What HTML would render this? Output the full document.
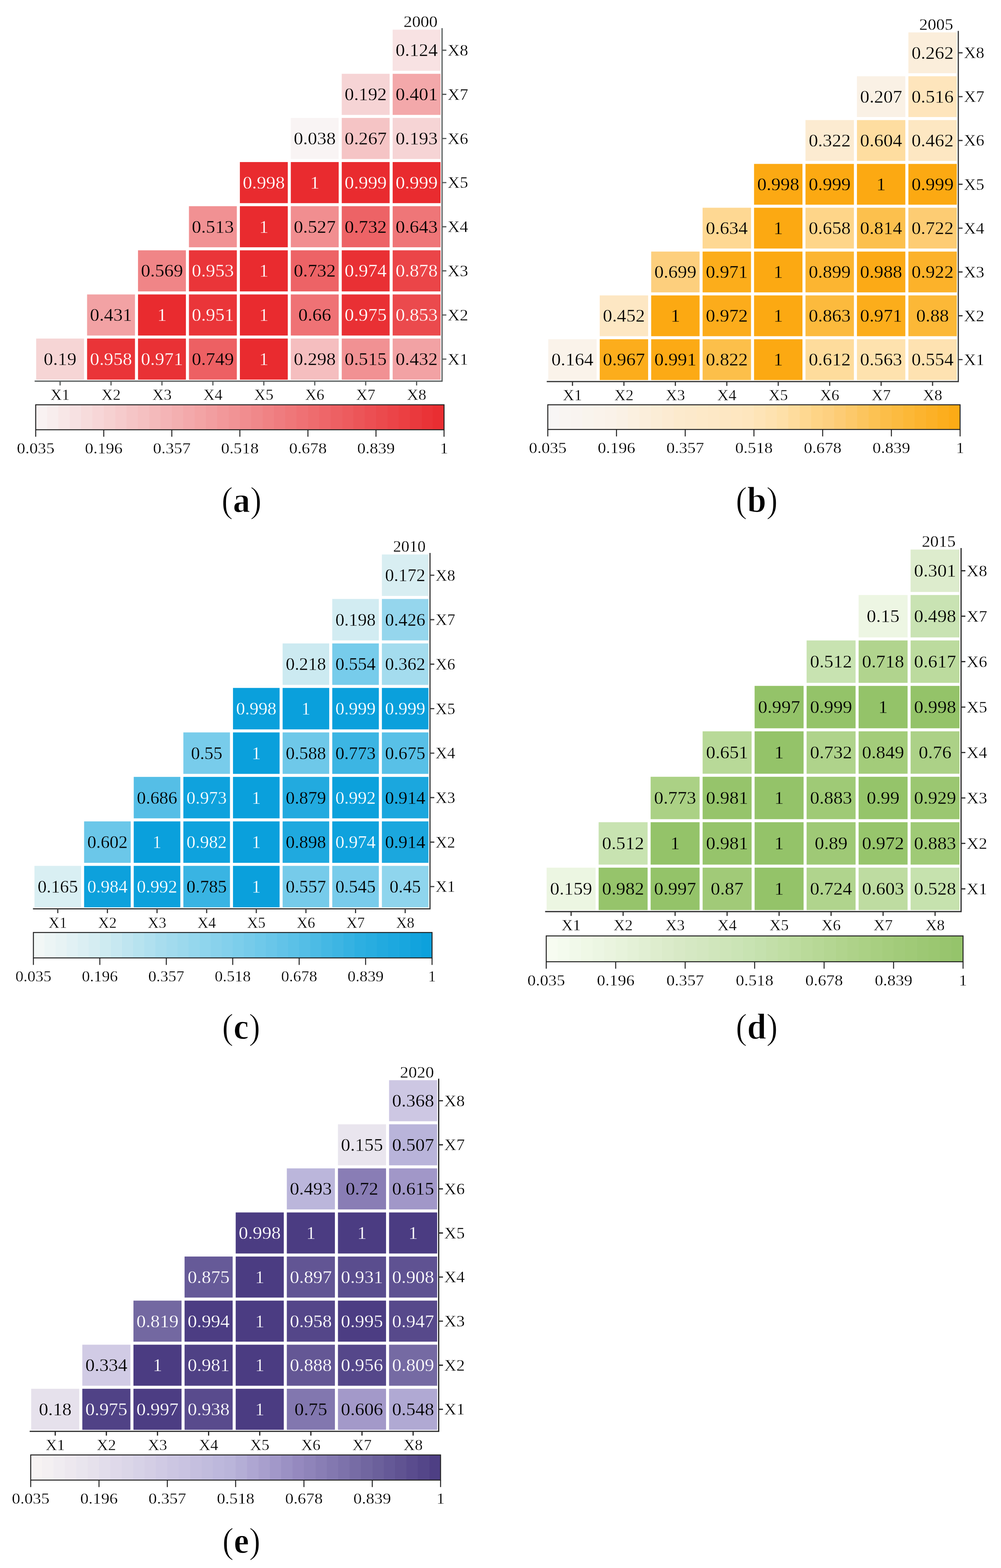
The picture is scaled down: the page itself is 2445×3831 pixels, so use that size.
<!DOCTYPE html><html><head><meta charset="utf-8"><style>html,body{margin:0;padding:0;background:#fff}svg{display:block}text{font-family:'Liberation Serif', 'Times New Roman', serif}</style></head><body>
<svg width="2445" height="3831" viewBox="0 0 2445 3831">
<rect x="0" y="0" width="2445" height="3831" fill="#fff"/>
<g><rect x="959.1" y="72.5" width="117" height="100.41" fill="#f8e2e3"/><text transform="translate(1017.6 137.43) scale(1.05 1)" font-size="43.5" text-anchor="middle" fill="#000" stroke="#f8e2e3" stroke-width="0.4" stroke-linejoin="round">0.124</text><rect x="834.7" y="180.31" width="117" height="100.41" fill="#f6d4d5"/><text transform="translate(893.2 245.24) scale(1.05 1)" font-size="43.5" text-anchor="middle" fill="#000" stroke="#f6d4d5" stroke-width="0.4" stroke-linejoin="round">0.192</text><rect x="959.1" y="180.31" width="117" height="100.41" fill="#f3a8aa"/><text transform="translate(1017.6 245.24) scale(1.05 1)" font-size="43.5" text-anchor="middle" fill="#000" stroke="#f3a8aa" stroke-width="0.4" stroke-linejoin="round">0.401</text><rect x="710.3" y="288.12" width="117" height="100.41" fill="#f9f4f4"/><text transform="translate(768.8 353.06) scale(1.05 1)" font-size="43.5" text-anchor="middle" fill="#000" stroke="#f9f4f4" stroke-width="0.4" stroke-linejoin="round">0.038</text><rect x="834.7" y="288.12" width="117" height="100.41" fill="#f5c4c5"/><text transform="translate(893.2 353.06) scale(1.05 1)" font-size="43.5" text-anchor="middle" fill="#000" stroke="#f5c4c5" stroke-width="0.4" stroke-linejoin="round">0.267</text><rect x="959.1" y="288.12" width="117" height="100.41" fill="#f6d4d5"/><text transform="translate(1017.6 353.06) scale(1.05 1)" font-size="43.5" text-anchor="middle" fill="#000" stroke="#f6d4d5" stroke-width="0.4" stroke-linejoin="round">0.193</text><rect x="585.9" y="395.94" width="117" height="100.41" fill="#e92b2f"/><text transform="translate(644.4 460.87) scale(1.05 1)" font-size="43.5" text-anchor="middle" fill="#fff" stroke="#e92b2f" stroke-width="0.4" stroke-linejoin="round">0.998</text><rect x="710.3" y="395.94" width="117" height="100.41" fill="#e92b2f"/><text transform="translate(768.8 460.87) scale(1.05 1)" font-size="43.5" text-anchor="middle" fill="#fff" stroke="#e92b2f" stroke-width="0.4" stroke-linejoin="round">1</text><rect x="834.7" y="395.94" width="117" height="100.41" fill="#e92b2f"/><text transform="translate(893.2 460.87) scale(1.05 1)" font-size="43.5" text-anchor="middle" fill="#fff" stroke="#e92b2f" stroke-width="0.4" stroke-linejoin="round">0.999</text><rect x="959.1" y="395.94" width="117" height="100.41" fill="#e92b2f"/><text transform="translate(1017.6 460.87) scale(1.05 1)" font-size="43.5" text-anchor="middle" fill="#fff" stroke="#e92b2f" stroke-width="0.4" stroke-linejoin="round">0.999</text><rect x="461.5" y="503.75" width="117" height="100.41" fill="#f19193"/><text transform="translate(520 568.68) scale(1.05 1)" font-size="43.5" text-anchor="middle" fill="#000" stroke="#f19193" stroke-width="0.4" stroke-linejoin="round">0.513</text><rect x="585.9" y="503.75" width="117" height="100.41" fill="#e92b2f"/><text transform="translate(644.4 568.68) scale(1.05 1)" font-size="43.5" text-anchor="middle" fill="#fff" stroke="#e92b2f" stroke-width="0.4" stroke-linejoin="round">1</text><rect x="710.3" y="503.75" width="117" height="100.41" fill="#f18e90"/><text transform="translate(768.8 568.68) scale(1.05 1)" font-size="43.5" text-anchor="middle" fill="#000" stroke="#f18e90" stroke-width="0.4" stroke-linejoin="round">0.527</text><rect x="834.7" y="503.75" width="117" height="100.41" fill="#ed6366"/><text transform="translate(893.2 568.68) scale(1.05 1)" font-size="43.5" text-anchor="middle" fill="#000" stroke="#ed6366" stroke-width="0.4" stroke-linejoin="round">0.732</text><rect x="959.1" y="503.75" width="117" height="100.41" fill="#ef7678"/><text transform="translate(1017.6 568.68) scale(1.05 1)" font-size="43.5" text-anchor="middle" fill="#000" stroke="#ef7678" stroke-width="0.4" stroke-linejoin="round">0.643</text><rect x="337.1" y="611.56" width="117" height="100.41" fill="#f08587"/><text transform="translate(395.6 676.49) scale(1.05 1)" font-size="43.5" text-anchor="middle" fill="#000" stroke="#f08587" stroke-width="0.4" stroke-linejoin="round">0.569</text><rect x="461.5" y="611.56" width="117" height="100.41" fill="#ea3539"/><text transform="translate(520 676.49) scale(1.05 1)" font-size="43.5" text-anchor="middle" fill="#fff" stroke="#ea3539" stroke-width="0.4" stroke-linejoin="round">0.953</text><rect x="585.9" y="611.56" width="117" height="100.41" fill="#e92b2f"/><text transform="translate(644.4 676.49) scale(1.05 1)" font-size="43.5" text-anchor="middle" fill="#fff" stroke="#e92b2f" stroke-width="0.4" stroke-linejoin="round">1</text><rect x="710.3" y="611.56" width="117" height="100.41" fill="#ed6366"/><text transform="translate(768.8 676.49) scale(1.05 1)" font-size="43.5" text-anchor="middle" fill="#000" stroke="#ed6366" stroke-width="0.4" stroke-linejoin="round">0.732</text><rect x="834.7" y="611.56" width="117" height="100.41" fill="#e93034"/><text transform="translate(893.2 676.49) scale(1.05 1)" font-size="43.5" text-anchor="middle" fill="#fff" stroke="#e93034" stroke-width="0.4" stroke-linejoin="round">0.974</text><rect x="959.1" y="611.56" width="117" height="100.41" fill="#eb4548"/><text transform="translate(1017.6 676.49) scale(1.05 1)" font-size="43.5" text-anchor="middle" fill="#fff" stroke="#eb4548" stroke-width="0.4" stroke-linejoin="round">0.878</text><rect x="212.7" y="719.38" width="117" height="100.41" fill="#f2a2a4"/><text transform="translate(271.2 784.31) scale(1.05 1)" font-size="43.5" text-anchor="middle" fill="#000" stroke="#f2a2a4" stroke-width="0.4" stroke-linejoin="round">0.431</text><rect x="337.1" y="719.38" width="117" height="100.41" fill="#e92b2f"/><text transform="translate(395.6 784.31) scale(1.05 1)" font-size="43.5" text-anchor="middle" fill="#fff" stroke="#e92b2f" stroke-width="0.4" stroke-linejoin="round">1</text><rect x="461.5" y="719.38" width="117" height="100.41" fill="#ea3539"/><text transform="translate(520 784.31) scale(1.05 1)" font-size="43.5" text-anchor="middle" fill="#fff" stroke="#ea3539" stroke-width="0.4" stroke-linejoin="round">0.951</text><rect x="585.9" y="719.38" width="117" height="100.41" fill="#e92b2f"/><text transform="translate(644.4 784.31) scale(1.05 1)" font-size="43.5" text-anchor="middle" fill="#fff" stroke="#e92b2f" stroke-width="0.4" stroke-linejoin="round">1</text><rect x="710.3" y="719.38" width="117" height="100.41" fill="#ef7275"/><text transform="translate(768.8 784.31) scale(1.05 1)" font-size="43.5" text-anchor="middle" fill="#000" stroke="#ef7275" stroke-width="0.4" stroke-linejoin="round">0.66</text><rect x="834.7" y="719.38" width="117" height="100.41" fill="#e93034"/><text transform="translate(893.2 784.31) scale(1.05 1)" font-size="43.5" text-anchor="middle" fill="#fff" stroke="#e93034" stroke-width="0.4" stroke-linejoin="round">0.975</text><rect x="959.1" y="719.38" width="117" height="100.41" fill="#eb4a4d"/><text transform="translate(1017.6 784.31) scale(1.05 1)" font-size="43.5" text-anchor="middle" fill="#fff" stroke="#eb4a4d" stroke-width="0.4" stroke-linejoin="round">0.853</text><rect x="88.3" y="827.19" width="117" height="100.41" fill="#f6d5d5"/><text transform="translate(146.8 892.12) scale(1.05 1)" font-size="43.5" text-anchor="middle" fill="#000" stroke="#f6d5d5" stroke-width="0.4" stroke-linejoin="round">0.19</text><rect x="212.7" y="827.19" width="117" height="100.41" fill="#ea3438"/><text transform="translate(271.2 892.12) scale(1.05 1)" font-size="43.5" text-anchor="middle" fill="#fff" stroke="#ea3438" stroke-width="0.4" stroke-linejoin="round">0.958</text><rect x="337.1" y="827.19" width="117" height="100.41" fill="#e93135"/><text transform="translate(395.6 892.12) scale(1.05 1)" font-size="43.5" text-anchor="middle" fill="#fff" stroke="#e93135" stroke-width="0.4" stroke-linejoin="round">0.971</text><rect x="461.5" y="827.19" width="117" height="100.41" fill="#ed6063"/><text transform="translate(520 892.12) scale(1.05 1)" font-size="43.5" text-anchor="middle" fill="#000" stroke="#ed6063" stroke-width="0.4" stroke-linejoin="round">0.749</text><rect x="585.9" y="827.19" width="117" height="100.41" fill="#e92b2f"/><text transform="translate(644.4 892.12) scale(1.05 1)" font-size="43.5" text-anchor="middle" fill="#fff" stroke="#e92b2f" stroke-width="0.4" stroke-linejoin="round">1</text><rect x="710.3" y="827.19" width="117" height="100.41" fill="#f5bebf"/><text transform="translate(768.8 892.12) scale(1.05 1)" font-size="43.5" text-anchor="middle" fill="#000" stroke="#f5bebf" stroke-width="0.4" stroke-linejoin="round">0.298</text><rect x="834.7" y="827.19" width="117" height="100.41" fill="#f19193"/><text transform="translate(893.2 892.12) scale(1.05 1)" font-size="43.5" text-anchor="middle" fill="#000" stroke="#f19193" stroke-width="0.4" stroke-linejoin="round">0.515</text><rect x="959.1" y="827.19" width="117" height="100.41" fill="#f2a2a4"/><text transform="translate(1017.6 892.12) scale(1.05 1)" font-size="43.5" text-anchor="middle" fill="#000" stroke="#f2a2a4" stroke-width="0.4" stroke-linejoin="round">0.432</text><path d="M84.6 931.3H1079.8V68.8" fill="none" stroke="#555a5a" stroke-width="2.9"/><path d="M146.8 931.3v10.5 M1079.8 122.71h10.5 M271.2 931.3v10.5 M1079.8 230.52h10.5 M395.6 931.3v10.5 M1079.8 338.33h10.5 M520 931.3v10.5 M1079.8 446.14h10.5 M644.4 931.3v10.5 M1079.8 553.96h10.5 M768.8 931.3v10.5 M1079.8 661.77h10.5 M893.2 931.3v10.5 M1079.8 769.58h10.5 M1017.6 931.3v10.5 M1079.8 877.39h10.5" stroke="#555a5a" stroke-width="2.9"/><text transform="translate(1093.3 135.94) scale(1.04 1)" font-size="39.5" text-anchor="start" fill="#000" stroke="#fff" stroke-width="0.4" stroke-linejoin="round">X8</text><text transform="translate(1093.3 243.75) scale(1.04 1)" font-size="39.5" text-anchor="start" fill="#000" stroke="#fff" stroke-width="0.4" stroke-linejoin="round">X7</text><text transform="translate(1093.3 351.56) scale(1.04 1)" font-size="39.5" text-anchor="start" fill="#000" stroke="#fff" stroke-width="0.4" stroke-linejoin="round">X6</text><text transform="translate(1093.3 459.38) scale(1.04 1)" font-size="39.5" text-anchor="start" fill="#000" stroke="#fff" stroke-width="0.4" stroke-linejoin="round">X5</text><text transform="translate(1093.3 567.19) scale(1.04 1)" font-size="39.5" text-anchor="start" fill="#000" stroke="#fff" stroke-width="0.4" stroke-linejoin="round">X4</text><text transform="translate(1093.3 675) scale(1.04 1)" font-size="39.5" text-anchor="start" fill="#000" stroke="#fff" stroke-width="0.4" stroke-linejoin="round">X3</text><text transform="translate(1093.3 782.81) scale(1.04 1)" font-size="39.5" text-anchor="start" fill="#000" stroke="#fff" stroke-width="0.4" stroke-linejoin="round">X2</text><text transform="translate(1093.3 890.63) scale(1.04 1)" font-size="39.5" text-anchor="start" fill="#000" stroke="#fff" stroke-width="0.4" stroke-linejoin="round">X1</text><text transform="translate(146.8 977.36) scale(1.02 1)" font-size="37.8" text-anchor="middle" fill="#000" stroke="#fff" stroke-width="0.4" stroke-linejoin="round">X1</text><text transform="translate(271.2 977.36) scale(1.02 1)" font-size="37.8" text-anchor="middle" fill="#000" stroke="#fff" stroke-width="0.4" stroke-linejoin="round">X2</text><text transform="translate(395.6 977.36) scale(1.02 1)" font-size="37.8" text-anchor="middle" fill="#000" stroke="#fff" stroke-width="0.4" stroke-linejoin="round">X3</text><text transform="translate(520 977.36) scale(1.02 1)" font-size="37.8" text-anchor="middle" fill="#000" stroke="#fff" stroke-width="0.4" stroke-linejoin="round">X4</text><text transform="translate(644.4 977.36) scale(1.02 1)" font-size="37.8" text-anchor="middle" fill="#000" stroke="#fff" stroke-width="0.4" stroke-linejoin="round">X5</text><text transform="translate(768.8 977.36) scale(1.02 1)" font-size="37.8" text-anchor="middle" fill="#000" stroke="#fff" stroke-width="0.4" stroke-linejoin="round">X6</text><text transform="translate(893.2 977.36) scale(1.02 1)" font-size="37.8" text-anchor="middle" fill="#000" stroke="#fff" stroke-width="0.4" stroke-linejoin="round">X7</text><text transform="translate(1017.6 977.36) scale(1.02 1)" font-size="37.8" text-anchor="middle" fill="#000" stroke="#fff" stroke-width="0.4" stroke-linejoin="round">X8</text><text transform="translate(1068.7 65.8) scale(1.05 1)" font-size="39.5" text-anchor="end" fill="#000" stroke="#fff" stroke-width="0.4" stroke-linejoin="round">2000</text><rect x="87.2" y="989" width="28.31" height="61" fill="#f9f2f2"/><rect x="114.91" y="989" width="28.31" height="61" fill="#f8eded"/><rect x="142.61" y="989" width="28.31" height="61" fill="#f8e7e7"/><rect x="170.32" y="989" width="28.31" height="61" fill="#f7e1e2"/><rect x="198.02" y="989" width="28.31" height="61" fill="#f7dcdc"/><rect x="225.73" y="989" width="28.31" height="61" fill="#f7d6d7"/><rect x="253.43" y="989" width="28.31" height="61" fill="#f6d1d1"/><rect x="281.14" y="989" width="28.31" height="61" fill="#f6cbcc"/><rect x="308.84" y="989" width="28.31" height="61" fill="#f5c5c6"/><rect x="336.55" y="989" width="28.31" height="61" fill="#f5c0c1"/><rect x="364.26" y="989" width="28.31" height="61" fill="#f4babb"/><rect x="391.96" y="989" width="28.31" height="61" fill="#f4b4b6"/><rect x="419.67" y="989" width="28.31" height="61" fill="#f3afb0"/><rect x="447.37" y="989" width="28.31" height="61" fill="#f3a9ab"/><rect x="475.08" y="989" width="28.31" height="61" fill="#f3a4a5"/><rect x="502.78" y="989" width="28.31" height="61" fill="#f29ea0"/><rect x="530.49" y="989" width="28.31" height="61" fill="#f2989a"/><rect x="558.19" y="989" width="28.31" height="61" fill="#f19395"/><rect x="585.9" y="989" width="28.31" height="61" fill="#f18d8f"/><rect x="613.61" y="989" width="28.31" height="61" fill="#f0888a"/><rect x="641.31" y="989" width="28.31" height="61" fill="#f08284"/><rect x="669.02" y="989" width="28.31" height="61" fill="#ef7c7f"/><rect x="696.72" y="989" width="28.31" height="61" fill="#ef7779"/><rect x="724.43" y="989" width="28.31" height="61" fill="#ef7174"/><rect x="752.13" y="989" width="28.31" height="61" fill="#ee6c6e"/><rect x="779.84" y="989" width="28.31" height="61" fill="#ee6669"/><rect x="807.54" y="989" width="28.31" height="61" fill="#ed6063"/><rect x="835.25" y="989" width="28.31" height="61" fill="#ed5b5e"/><rect x="862.96" y="989" width="28.31" height="61" fill="#ec5558"/><rect x="890.66" y="989" width="28.31" height="61" fill="#ec4f53"/><rect x="918.37" y="989" width="28.31" height="61" fill="#eb4a4d"/><rect x="946.07" y="989" width="28.31" height="61" fill="#eb4448"/><rect x="973.78" y="989" width="28.31" height="61" fill="#eb3f42"/><rect x="1001.48" y="989" width="28.31" height="61" fill="#ea393d"/><rect x="1029.19" y="989" width="28.31" height="61" fill="#ea3337"/><rect x="1056.89" y="989" width="28.31" height="61" fill="#e92e32"/><rect x="87.2" y="989" width="997.4" height="61" fill="none" stroke="#222" stroke-width="2.4"/><text transform="translate(87.2 1107.99) scale(1.074 1)" font-size="38" text-anchor="middle" fill="#000" stroke="#fff" stroke-width="0.4" stroke-linejoin="round">0.035</text><text transform="translate(253.43 1107.99) scale(1.074 1)" font-size="38" text-anchor="middle" fill="#000" stroke="#fff" stroke-width="0.4" stroke-linejoin="round">0.196</text><text transform="translate(419.67 1107.99) scale(1.074 1)" font-size="38" text-anchor="middle" fill="#000" stroke="#fff" stroke-width="0.4" stroke-linejoin="round">0.357</text><text transform="translate(585.9 1107.99) scale(1.074 1)" font-size="38" text-anchor="middle" fill="#000" stroke="#fff" stroke-width="0.4" stroke-linejoin="round">0.518</text><text transform="translate(752.13 1107.99) scale(1.074 1)" font-size="38" text-anchor="middle" fill="#000" stroke="#fff" stroke-width="0.4" stroke-linejoin="round">0.678</text><text transform="translate(918.37 1107.99) scale(1.074 1)" font-size="38" text-anchor="middle" fill="#000" stroke="#fff" stroke-width="0.4" stroke-linejoin="round">0.839</text><text transform="translate(1084.6 1107.99) scale(1.074 1)" font-size="38" text-anchor="middle" fill="#000" stroke="#fff" stroke-width="0.4" stroke-linejoin="round">1</text><path d="M87.2 1050v17 M253.43 1050v17 M419.67 1050v17 M585.9 1050v17 M752.13 1050v17 M918.37 1050v17 M1084.6 1050v17" stroke="#222" stroke-width="2.4"/><text transform="translate(590 1251.2) scale(0.955 1)" font-size="88" text-anchor="middle" stroke="#fff" stroke-width="1.4" stroke-linejoin="round">(<tspan font-weight="bold">a</tspan>)</text></g>
<g><rect x="2218.75" y="79.2" width="118.25" height="99.69" fill="#fbeedb"/><text transform="translate(2277.88 143.77) scale(1.05 1)" font-size="43.5" text-anchor="middle" fill="#000" stroke="#fbeedb" stroke-width="0.4" stroke-linejoin="round">0.262</text><rect x="2093.1" y="186.29" width="118.25" height="99.69" fill="#faf1e5"/><text transform="translate(2152.22 250.86) scale(1.05 1)" font-size="43.5" text-anchor="middle" fill="#000" stroke="#faf1e5" stroke-width="0.4" stroke-linejoin="round">0.207</text><rect x="2218.75" y="186.29" width="118.25" height="99.69" fill="#fee5bc"/><text transform="translate(2277.88 250.86) scale(1.05 1)" font-size="43.5" text-anchor="middle" fill="#000" stroke="#fee5bc" stroke-width="0.4" stroke-linejoin="round">0.516</text><rect x="1967.45" y="293.38" width="118.25" height="99.69" fill="#fcebd1"/><text transform="translate(2026.57 357.94) scale(1.05 1)" font-size="43.5" text-anchor="middle" fill="#000" stroke="#fcebd1" stroke-width="0.4" stroke-linejoin="round">0.322</text><rect x="2093.1" y="293.38" width="118.25" height="99.69" fill="#fedda0"/><text transform="translate(2152.22 357.94) scale(1.05 1)" font-size="43.5" text-anchor="middle" fill="#000" stroke="#fedda0" stroke-width="0.4" stroke-linejoin="round">0.604</text><rect x="2218.75" y="293.38" width="118.25" height="99.69" fill="#fde7c2"/><text transform="translate(2277.88 357.94) scale(1.05 1)" font-size="43.5" text-anchor="middle" fill="#000" stroke="#fde7c2" stroke-width="0.4" stroke-linejoin="round">0.462</text><rect x="1841.8" y="400.46" width="118.25" height="99.69" fill="#fca913"/><text transform="translate(1900.92 465.03) scale(1.05 1)" font-size="43.5" text-anchor="middle" fill="#000" stroke="#fca913" stroke-width="0.4" stroke-linejoin="round">0.998</text><rect x="1967.45" y="400.46" width="118.25" height="99.69" fill="#fca912"/><text transform="translate(2026.57 465.03) scale(1.05 1)" font-size="43.5" text-anchor="middle" fill="#000" stroke="#fca912" stroke-width="0.4" stroke-linejoin="round">0.999</text><rect x="2093.1" y="400.46" width="118.25" height="99.69" fill="#fca912"/><text transform="translate(2152.22 465.03) scale(1.05 1)" font-size="43.5" text-anchor="middle" fill="#000" stroke="#fca912" stroke-width="0.4" stroke-linejoin="round">1</text><rect x="2218.75" y="400.46" width="118.25" height="99.69" fill="#fca912"/><text transform="translate(2277.88 465.03) scale(1.05 1)" font-size="43.5" text-anchor="middle" fill="#000" stroke="#fca912" stroke-width="0.4" stroke-linejoin="round">0.999</text><rect x="1716.15" y="507.55" width="118.25" height="99.69" fill="#fed893"/><text transform="translate(1775.27 572.12) scale(1.05 1)" font-size="43.5" text-anchor="middle" fill="#000" stroke="#fed893" stroke-width="0.4" stroke-linejoin="round">0.634</text><rect x="1841.8" y="507.55" width="118.25" height="99.69" fill="#fca912"/><text transform="translate(1900.92 572.12) scale(1.05 1)" font-size="43.5" text-anchor="middle" fill="#000" stroke="#fca912" stroke-width="0.4" stroke-linejoin="round">1</text><rect x="1967.45" y="507.55" width="118.25" height="99.69" fill="#fed589"/><text transform="translate(2026.57 572.12) scale(1.05 1)" font-size="43.5" text-anchor="middle" fill="#000" stroke="#fed589" stroke-width="0.4" stroke-linejoin="round">0.658</text><rect x="2093.1" y="507.55" width="118.25" height="99.69" fill="#fcc04d"/><text transform="translate(2152.22 572.12) scale(1.05 1)" font-size="43.5" text-anchor="middle" fill="#000" stroke="#fcc04d" stroke-width="0.4" stroke-linejoin="round">0.814</text><rect x="2218.75" y="507.55" width="118.25" height="99.69" fill="#fdcc73"/><text transform="translate(2277.88 572.12) scale(1.05 1)" font-size="43.5" text-anchor="middle" fill="#000" stroke="#fdcc73" stroke-width="0.4" stroke-linejoin="round">0.722</text><rect x="1590.5" y="614.64" width="118.25" height="99.69" fill="#fdcf7d"/><text transform="translate(1649.62 679.21) scale(1.05 1)" font-size="43.5" text-anchor="middle" fill="#000" stroke="#fdcf7d" stroke-width="0.4" stroke-linejoin="round">0.699</text><rect x="1716.15" y="614.64" width="118.25" height="99.69" fill="#fcad1b"/><text transform="translate(1775.27 679.21) scale(1.05 1)" font-size="43.5" text-anchor="middle" fill="#000" stroke="#fcad1b" stroke-width="0.4" stroke-linejoin="round">0.971</text><rect x="1841.8" y="614.64" width="118.25" height="99.69" fill="#fca912"/><text transform="translate(1900.92 679.21) scale(1.05 1)" font-size="43.5" text-anchor="middle" fill="#000" stroke="#fca912" stroke-width="0.4" stroke-linejoin="round">1</text><rect x="1967.45" y="614.64" width="118.25" height="99.69" fill="#fcb531"/><text transform="translate(2026.57 679.21) scale(1.05 1)" font-size="43.5" text-anchor="middle" fill="#000" stroke="#fcb531" stroke-width="0.4" stroke-linejoin="round">0.899</text><rect x="2093.1" y="614.64" width="118.25" height="99.69" fill="#fcaa16"/><text transform="translate(2152.22 679.21) scale(1.05 1)" font-size="43.5" text-anchor="middle" fill="#000" stroke="#fcaa16" stroke-width="0.4" stroke-linejoin="round">0.988</text><rect x="2218.75" y="614.64" width="118.25" height="99.69" fill="#fcb22a"/><text transform="translate(2277.88 679.21) scale(1.05 1)" font-size="43.5" text-anchor="middle" fill="#000" stroke="#fcb22a" stroke-width="0.4" stroke-linejoin="round">0.922</text><rect x="1464.85" y="721.73" width="118.25" height="99.69" fill="#fde7c3"/><text transform="translate(1523.97 786.29) scale(1.05 1)" font-size="43.5" text-anchor="middle" fill="#000" stroke="#fde7c3" stroke-width="0.4" stroke-linejoin="round">0.452</text><rect x="1590.5" y="721.73" width="118.25" height="99.69" fill="#fca912"/><text transform="translate(1649.62 786.29) scale(1.05 1)" font-size="43.5" text-anchor="middle" fill="#000" stroke="#fca912" stroke-width="0.4" stroke-linejoin="round">1</text><rect x="1716.15" y="721.73" width="118.25" height="99.69" fill="#fcac1b"/><text transform="translate(1775.27 786.29) scale(1.05 1)" font-size="43.5" text-anchor="middle" fill="#000" stroke="#fcac1b" stroke-width="0.4" stroke-linejoin="round">0.972</text><rect x="1841.8" y="721.73" width="118.25" height="99.69" fill="#fca912"/><text transform="translate(1900.92 786.29) scale(1.05 1)" font-size="43.5" text-anchor="middle" fill="#000" stroke="#fca912" stroke-width="0.4" stroke-linejoin="round">1</text><rect x="1967.45" y="721.73" width="118.25" height="99.69" fill="#fcba3d"/><text transform="translate(2026.57 786.29) scale(1.05 1)" font-size="43.5" text-anchor="middle" fill="#000" stroke="#fcba3d" stroke-width="0.4" stroke-linejoin="round">0.863</text><rect x="2093.1" y="721.73" width="118.25" height="99.69" fill="#fcad1b"/><text transform="translate(2152.22 786.29) scale(1.05 1)" font-size="43.5" text-anchor="middle" fill="#000" stroke="#fcad1b" stroke-width="0.4" stroke-linejoin="round">0.971</text><rect x="2218.75" y="721.73" width="118.25" height="99.69" fill="#fcb837"/><text transform="translate(2277.88 786.29) scale(1.05 1)" font-size="43.5" text-anchor="middle" fill="#000" stroke="#fcb837" stroke-width="0.4" stroke-linejoin="round">0.88</text><rect x="1339.2" y="828.81" width="118.25" height="99.69" fill="#faf3ea"/><text transform="translate(1398.33 893.38) scale(1.05 1)" font-size="43.5" text-anchor="middle" fill="#000" stroke="#faf3ea" stroke-width="0.4" stroke-linejoin="round">0.164</text><rect x="1464.85" y="828.81" width="118.25" height="99.69" fill="#fcad1c"/><text transform="translate(1523.97 893.38) scale(1.05 1)" font-size="43.5" text-anchor="middle" fill="#000" stroke="#fcad1c" stroke-width="0.4" stroke-linejoin="round">0.967</text><rect x="1590.5" y="828.81" width="118.25" height="99.69" fill="#fcaa15"/><text transform="translate(1649.62 893.38) scale(1.05 1)" font-size="43.5" text-anchor="middle" fill="#000" stroke="#fcaa15" stroke-width="0.4" stroke-linejoin="round">0.991</text><rect x="1716.15" y="828.81" width="118.25" height="99.69" fill="#fcbf4a"/><text transform="translate(1775.27 893.38) scale(1.05 1)" font-size="43.5" text-anchor="middle" fill="#000" stroke="#fcbf4a" stroke-width="0.4" stroke-linejoin="round">0.822</text><rect x="1841.8" y="828.81" width="118.25" height="99.69" fill="#fca912"/><text transform="translate(1900.92 893.38) scale(1.05 1)" font-size="43.5" text-anchor="middle" fill="#000" stroke="#fca912" stroke-width="0.4" stroke-linejoin="round">1</text><rect x="1967.45" y="828.81" width="118.25" height="99.69" fill="#fedc9c"/><text transform="translate(2026.57 893.38) scale(1.05 1)" font-size="43.5" text-anchor="middle" fill="#000" stroke="#fedc9c" stroke-width="0.4" stroke-linejoin="round">0.612</text><rect x="2093.1" y="828.81" width="118.25" height="99.69" fill="#fee2ae"/><text transform="translate(2152.22 893.38) scale(1.05 1)" font-size="43.5" text-anchor="middle" fill="#000" stroke="#fee2ae" stroke-width="0.4" stroke-linejoin="round">0.563</text><rect x="2218.75" y="828.81" width="118.25" height="99.69" fill="#fee2b1"/><text transform="translate(2277.88 893.38) scale(1.05 1)" font-size="43.5" text-anchor="middle" fill="#000" stroke="#fee2b1" stroke-width="0.4" stroke-linejoin="round">0.554</text><path d="M1335.5 932.2H2340.7V75.5" fill="none" stroke="#383838" stroke-width="2.9"/><path d="M1398.33 932.2v10.5 M2340.7 129.04h10.5 M1523.97 932.2v10.5 M2340.7 236.13h10.5 M1649.62 932.2v10.5 M2340.7 343.22h10.5 M1775.27 932.2v10.5 M2340.7 450.31h10.5 M1900.92 932.2v10.5 M2340.7 557.39h10.5 M2026.57 932.2v10.5 M2340.7 664.48h10.5 M2152.22 932.2v10.5 M2340.7 771.57h10.5 M2277.88 932.2v10.5 M2340.7 878.66h10.5" stroke="#383838" stroke-width="2.9"/><text transform="translate(2354.2 142.28) scale(1.04 1)" font-size="39.5" text-anchor="start" fill="#000" stroke="#fff" stroke-width="0.4" stroke-linejoin="round">X8</text><text transform="translate(2354.2 249.36) scale(1.04 1)" font-size="39.5" text-anchor="start" fill="#000" stroke="#fff" stroke-width="0.4" stroke-linejoin="round">X7</text><text transform="translate(2354.2 356.45) scale(1.04 1)" font-size="39.5" text-anchor="start" fill="#000" stroke="#fff" stroke-width="0.4" stroke-linejoin="round">X6</text><text transform="translate(2354.2 463.54) scale(1.04 1)" font-size="39.5" text-anchor="start" fill="#000" stroke="#fff" stroke-width="0.4" stroke-linejoin="round">X5</text><text transform="translate(2354.2 570.63) scale(1.04 1)" font-size="39.5" text-anchor="start" fill="#000" stroke="#fff" stroke-width="0.4" stroke-linejoin="round">X4</text><text transform="translate(2354.2 677.71) scale(1.04 1)" font-size="39.5" text-anchor="start" fill="#000" stroke="#fff" stroke-width="0.4" stroke-linejoin="round">X3</text><text transform="translate(2354.2 784.8) scale(1.04 1)" font-size="39.5" text-anchor="start" fill="#000" stroke="#fff" stroke-width="0.4" stroke-linejoin="round">X2</text><text transform="translate(2354.2 891.89) scale(1.04 1)" font-size="39.5" text-anchor="start" fill="#000" stroke="#fff" stroke-width="0.4" stroke-linejoin="round">X1</text><text transform="translate(1398.33 978.26) scale(1.02 1)" font-size="37.8" text-anchor="middle" fill="#000" stroke="#fff" stroke-width="0.4" stroke-linejoin="round">X1</text><text transform="translate(1523.97 978.26) scale(1.02 1)" font-size="37.8" text-anchor="middle" fill="#000" stroke="#fff" stroke-width="0.4" stroke-linejoin="round">X2</text><text transform="translate(1649.62 978.26) scale(1.02 1)" font-size="37.8" text-anchor="middle" fill="#000" stroke="#fff" stroke-width="0.4" stroke-linejoin="round">X3</text><text transform="translate(1775.27 978.26) scale(1.02 1)" font-size="37.8" text-anchor="middle" fill="#000" stroke="#fff" stroke-width="0.4" stroke-linejoin="round">X4</text><text transform="translate(1900.92 978.26) scale(1.02 1)" font-size="37.8" text-anchor="middle" fill="#000" stroke="#fff" stroke-width="0.4" stroke-linejoin="round">X5</text><text transform="translate(2026.57 978.26) scale(1.02 1)" font-size="37.8" text-anchor="middle" fill="#000" stroke="#fff" stroke-width="0.4" stroke-linejoin="round">X6</text><text transform="translate(2152.22 978.26) scale(1.02 1)" font-size="37.8" text-anchor="middle" fill="#000" stroke="#fff" stroke-width="0.4" stroke-linejoin="round">X7</text><text transform="translate(2277.88 978.26) scale(1.02 1)" font-size="37.8" text-anchor="middle" fill="#000" stroke="#fff" stroke-width="0.4" stroke-linejoin="round">X8</text><text transform="translate(2328.2 72.5) scale(1.05 1)" font-size="39.5" text-anchor="end" fill="#000" stroke="#fff" stroke-width="0.4" stroke-linejoin="round">2005</text><rect x="1338" y="989" width="28.57" height="60.3" fill="#f8f6f5"/><rect x="1365.97" y="989" width="28.57" height="60.3" fill="#f9f5f2"/><rect x="1393.95" y="989" width="28.57" height="60.3" fill="#f9f4f0"/><rect x="1421.92" y="989" width="28.57" height="60.3" fill="#f9f4ed"/><rect x="1449.9" y="989" width="28.57" height="60.3" fill="#faf3eb"/><rect x="1477.88" y="989" width="28.57" height="60.3" fill="#faf2e9"/><rect x="1505.85" y="989" width="28.57" height="60.3" fill="#faf1e5"/><rect x="1533.83" y="989" width="28.57" height="60.3" fill="#fbf0e0"/><rect x="1561.8" y="989" width="28.57" height="60.3" fill="#fbeedb"/><rect x="1589.78" y="989" width="28.57" height="60.3" fill="#fbedd6"/><rect x="1617.75" y="989" width="28.57" height="60.3" fill="#fcebd2"/><rect x="1645.72" y="989" width="28.57" height="60.3" fill="#fceacd"/><rect x="1673.7" y="989" width="28.57" height="60.3" fill="#fce9cb"/><rect x="1701.67" y="989" width="28.57" height="60.3" fill="#fde9c8"/><rect x="1729.65" y="989" width="28.57" height="60.3" fill="#fde8c6"/><rect x="1757.62" y="989" width="28.57" height="60.3" fill="#fde7c3"/><rect x="1785.6" y="989" width="28.57" height="60.3" fill="#fee7c1"/><rect x="1813.58" y="989" width="28.57" height="60.3" fill="#fee6be"/><rect x="1841.55" y="989" width="28.57" height="60.3" fill="#fee4b7"/><rect x="1869.53" y="989" width="28.57" height="60.3" fill="#fee2b0"/><rect x="1897.5" y="989" width="28.57" height="60.3" fill="#fee0a8"/><rect x="1925.47" y="989" width="28.57" height="60.3" fill="#fedc9d"/><rect x="1953.45" y="989" width="28.57" height="60.3" fill="#fed891"/><rect x="1981.42" y="989" width="28.57" height="60.3" fill="#fed486"/><rect x="2009.4" y="989" width="28.57" height="60.3" fill="#fdd080"/><rect x="2037.38" y="989" width="28.57" height="60.3" fill="#fdcc75"/><rect x="2065.35" y="989" width="28.57" height="60.3" fill="#fdc96a"/><rect x="2093.32" y="989" width="28.57" height="60.3" fill="#fcc55e"/><rect x="2121.3" y="989" width="28.57" height="60.3" fill="#fcc253"/><rect x="2149.28" y="989" width="28.57" height="60.3" fill="#fcbe48"/><rect x="2177.25" y="989" width="28.57" height="60.3" fill="#fcbb40"/><rect x="2205.22" y="989" width="28.57" height="60.3" fill="#fcb837"/><rect x="2233.2" y="989" width="28.57" height="60.3" fill="#fcb42f"/><rect x="2261.18" y="989" width="28.57" height="60.3" fill="#fcb127"/><rect x="2289.15" y="989" width="28.57" height="60.3" fill="#fcae1e"/><rect x="2317.12" y="989" width="28.57" height="60.3" fill="#fcab16"/><rect x="1338" y="989" width="1007.1" height="60.3" fill="none" stroke="#222" stroke-width="2.4"/><text transform="translate(1338 1107.29) scale(1.074 1)" font-size="38" text-anchor="middle" fill="#000" stroke="#fff" stroke-width="0.4" stroke-linejoin="round">0.035</text><text transform="translate(1505.85 1107.29) scale(1.074 1)" font-size="38" text-anchor="middle" fill="#000" stroke="#fff" stroke-width="0.4" stroke-linejoin="round">0.196</text><text transform="translate(1673.7 1107.29) scale(1.074 1)" font-size="38" text-anchor="middle" fill="#000" stroke="#fff" stroke-width="0.4" stroke-linejoin="round">0.357</text><text transform="translate(1841.55 1107.29) scale(1.074 1)" font-size="38" text-anchor="middle" fill="#000" stroke="#fff" stroke-width="0.4" stroke-linejoin="round">0.518</text><text transform="translate(2009.4 1107.29) scale(1.074 1)" font-size="38" text-anchor="middle" fill="#000" stroke="#fff" stroke-width="0.4" stroke-linejoin="round">0.678</text><text transform="translate(2177.25 1107.29) scale(1.074 1)" font-size="38" text-anchor="middle" fill="#000" stroke="#fff" stroke-width="0.4" stroke-linejoin="round">0.839</text><text transform="translate(2345.1 1107.29) scale(1.074 1)" font-size="38" text-anchor="middle" fill="#000" stroke="#fff" stroke-width="0.4" stroke-linejoin="round">1</text><path d="M1338 1049.3v17 M1505.85 1049.3v17 M1673.7 1049.3v17 M1841.55 1049.3v17 M2009.4 1049.3v17 M2177.25 1049.3v17 M2345.1 1049.3v17" stroke="#222" stroke-width="2.4"/><text transform="translate(1848.4 1251) scale(0.955 1)" font-size="88" text-anchor="middle" stroke="#fff" stroke-width="1.4" stroke-linejoin="round">(<tspan font-weight="bold">b</tspan>)</text></g>
<g><rect x="932.77" y="1354.7" width="113.82" height="101.29" fill="#d8eef2"/><text transform="translate(989.69 1420.07) scale(1.0059 1)" font-size="43.5" text-anchor="middle" fill="#000" stroke="#d8eef2" stroke-width="0.4" stroke-linejoin="round">0.172</text><rect x="811.55" y="1463.39" width="113.82" height="101.29" fill="#d2ecf2"/><text transform="translate(868.46 1528.76) scale(1.0059 1)" font-size="43.5" text-anchor="middle" fill="#000" stroke="#d2ecf2" stroke-width="0.4" stroke-linejoin="round">0.198</text><rect x="932.77" y="1463.39" width="113.82" height="101.29" fill="#95d6ed"/><text transform="translate(989.69 1528.76) scale(1.0059 1)" font-size="43.5" text-anchor="middle" fill="#000" stroke="#95d6ed" stroke-width="0.4" stroke-linejoin="round">0.426</text><rect x="690.33" y="1572.08" width="113.82" height="101.29" fill="#cceaf1"/><text transform="translate(747.24 1637.44) scale(1.0059 1)" font-size="43.5" text-anchor="middle" fill="#000" stroke="#cceaf1" stroke-width="0.4" stroke-linejoin="round">0.218</text><rect x="811.55" y="1572.08" width="113.82" height="101.29" fill="#77cceb"/><text transform="translate(868.46 1637.44) scale(1.0059 1)" font-size="43.5" text-anchor="middle" fill="#000" stroke="#77cceb" stroke-width="0.4" stroke-linejoin="round">0.554</text><rect x="932.77" y="1572.08" width="113.82" height="101.29" fill="#a4dcee"/><text transform="translate(989.69 1637.44) scale(1.0059 1)" font-size="43.5" text-anchor="middle" fill="#000" stroke="#a4dcee" stroke-width="0.4" stroke-linejoin="round">0.362</text><rect x="569.1" y="1680.76" width="113.82" height="101.29" fill="#0aa0dc"/><text transform="translate(626.01 1746.13) scale(1.0059 1)" font-size="43.5" text-anchor="middle" fill="#fff" stroke="#0aa0dc" stroke-width="0.4" stroke-linejoin="round">0.998</text><rect x="690.33" y="1680.76" width="113.82" height="101.29" fill="#0aa0dc"/><text transform="translate(747.24 1746.13) scale(1.0059 1)" font-size="43.5" text-anchor="middle" fill="#fff" stroke="#0aa0dc" stroke-width="0.4" stroke-linejoin="round">1</text><rect x="811.55" y="1680.76" width="113.82" height="101.29" fill="#0aa0dc"/><text transform="translate(868.46 1746.13) scale(1.0059 1)" font-size="43.5" text-anchor="middle" fill="#fff" stroke="#0aa0dc" stroke-width="0.4" stroke-linejoin="round">0.999</text><rect x="932.77" y="1680.76" width="113.82" height="101.29" fill="#0aa0dc"/><text transform="translate(989.69 1746.13) scale(1.0059 1)" font-size="43.5" text-anchor="middle" fill="#fff" stroke="#0aa0dc" stroke-width="0.4" stroke-linejoin="round">0.999</text><rect x="447.87" y="1789.45" width="113.82" height="101.29" fill="#78cceb"/><text transform="translate(504.79 1854.82) scale(1.0059 1)" font-size="43.5" text-anchor="middle" fill="#000" stroke="#78cceb" stroke-width="0.4" stroke-linejoin="round">0.55</text><rect x="569.1" y="1789.45" width="113.82" height="101.29" fill="#0aa0dc"/><text transform="translate(626.01 1854.82) scale(1.0059 1)" font-size="43.5" text-anchor="middle" fill="#fff" stroke="#0aa0dc" stroke-width="0.4" stroke-linejoin="round">1</text><rect x="690.33" y="1789.45" width="113.82" height="101.29" fill="#6ec8e9"/><text transform="translate(747.24 1854.82) scale(1.0059 1)" font-size="43.5" text-anchor="middle" fill="#000" stroke="#6ec8e9" stroke-width="0.4" stroke-linejoin="round">0.588</text><rect x="811.55" y="1789.45" width="113.82" height="101.29" fill="#3cb5e3"/><text transform="translate(868.46 1854.82) scale(1.0059 1)" font-size="43.5" text-anchor="middle" fill="#000" stroke="#3cb5e3" stroke-width="0.4" stroke-linejoin="round">0.773</text><rect x="932.77" y="1789.45" width="113.82" height="101.29" fill="#58c0e7"/><text transform="translate(989.69 1854.82) scale(1.0059 1)" font-size="43.5" text-anchor="middle" fill="#000" stroke="#58c0e7" stroke-width="0.4" stroke-linejoin="round">0.675</text><rect x="326.65" y="1898.14" width="113.82" height="101.29" fill="#55bee6"/><text transform="translate(383.56 1963.51) scale(1.0059 1)" font-size="43.5" text-anchor="middle" fill="#000" stroke="#55bee6" stroke-width="0.4" stroke-linejoin="round">0.686</text><rect x="447.87" y="1898.14" width="113.82" height="101.29" fill="#0fa2dd"/><text transform="translate(504.79 1963.51) scale(1.0059 1)" font-size="43.5" text-anchor="middle" fill="#fff" stroke="#0fa2dd" stroke-width="0.4" stroke-linejoin="round">0.973</text><rect x="569.1" y="1898.14" width="113.82" height="101.29" fill="#0aa0dc"/><text transform="translate(626.01 1963.51) scale(1.0059 1)" font-size="43.5" text-anchor="middle" fill="#fff" stroke="#0aa0dc" stroke-width="0.4" stroke-linejoin="round">1</text><rect x="690.33" y="1898.14" width="113.82" height="101.29" fill="#22aadf"/><text transform="translate(747.24 1963.51) scale(1.0059 1)" font-size="43.5" text-anchor="middle" fill="#000" stroke="#22aadf" stroke-width="0.4" stroke-linejoin="round">0.879</text><rect x="811.55" y="1898.14" width="113.82" height="101.29" fill="#0ca1dc"/><text transform="translate(868.46 1963.51) scale(1.0059 1)" font-size="43.5" text-anchor="middle" fill="#fff" stroke="#0ca1dc" stroke-width="0.4" stroke-linejoin="round">0.992</text><rect x="932.77" y="1898.14" width="113.82" height="101.29" fill="#1ba7de"/><text transform="translate(989.69 1963.51) scale(1.0059 1)" font-size="43.5" text-anchor="middle" fill="#000" stroke="#1ba7de" stroke-width="0.4" stroke-linejoin="round">0.914</text><rect x="205.42" y="2006.83" width="113.82" height="101.29" fill="#6bc7e9"/><text transform="translate(262.34 2072.19) scale(1.0059 1)" font-size="43.5" text-anchor="middle" fill="#000" stroke="#6bc7e9" stroke-width="0.4" stroke-linejoin="round">0.602</text><rect x="326.65" y="2006.83" width="113.82" height="101.29" fill="#0aa0dc"/><text transform="translate(383.56 2072.19) scale(1.0059 1)" font-size="43.5" text-anchor="middle" fill="#fff" stroke="#0aa0dc" stroke-width="0.4" stroke-linejoin="round">1</text><rect x="447.87" y="2006.83" width="113.82" height="101.29" fill="#0ea2dd"/><text transform="translate(504.79 2072.19) scale(1.0059 1)" font-size="43.5" text-anchor="middle" fill="#fff" stroke="#0ea2dd" stroke-width="0.4" stroke-linejoin="round">0.982</text><rect x="569.1" y="2006.83" width="113.82" height="101.29" fill="#0aa0dc"/><text transform="translate(626.01 2072.19) scale(1.0059 1)" font-size="43.5" text-anchor="middle" fill="#fff" stroke="#0aa0dc" stroke-width="0.4" stroke-linejoin="round">1</text><rect x="690.33" y="2006.83" width="113.82" height="101.29" fill="#1fa9df"/><text transform="translate(747.24 2072.19) scale(1.0059 1)" font-size="43.5" text-anchor="middle" fill="#000" stroke="#1fa9df" stroke-width="0.4" stroke-linejoin="round">0.898</text><rect x="811.55" y="2006.83" width="113.82" height="101.29" fill="#0fa2dd"/><text transform="translate(868.46 2072.19) scale(1.0059 1)" font-size="43.5" text-anchor="middle" fill="#fff" stroke="#0fa2dd" stroke-width="0.4" stroke-linejoin="round">0.974</text><rect x="932.77" y="2006.83" width="113.82" height="101.29" fill="#1ba7de"/><text transform="translate(989.69 2072.19) scale(1.0059 1)" font-size="43.5" text-anchor="middle" fill="#000" stroke="#1ba7de" stroke-width="0.4" stroke-linejoin="round">0.914</text><rect x="84.2" y="2115.51" width="113.82" height="101.29" fill="#d9eff3"/><text transform="translate(141.11 2180.88) scale(1.0059 1)" font-size="43.5" text-anchor="middle" fill="#000" stroke="#d9eff3" stroke-width="0.4" stroke-linejoin="round">0.165</text><rect x="205.42" y="2115.51" width="113.82" height="101.29" fill="#0da1dc"/><text transform="translate(262.34 2180.88) scale(1.0059 1)" font-size="43.5" text-anchor="middle" fill="#fff" stroke="#0da1dc" stroke-width="0.4" stroke-linejoin="round">0.984</text><rect x="326.65" y="2115.51" width="113.82" height="101.29" fill="#0ca1dc"/><text transform="translate(383.56 2180.88) scale(1.0059 1)" font-size="43.5" text-anchor="middle" fill="#fff" stroke="#0ca1dc" stroke-width="0.4" stroke-linejoin="round">0.992</text><rect x="447.87" y="2115.51" width="113.82" height="101.29" fill="#39b4e3"/><text transform="translate(504.79 2180.88) scale(1.0059 1)" font-size="43.5" text-anchor="middle" fill="#000" stroke="#39b4e3" stroke-width="0.4" stroke-linejoin="round">0.785</text><rect x="569.1" y="2115.51" width="113.82" height="101.29" fill="#0aa0dc"/><text transform="translate(626.01 2180.88) scale(1.0059 1)" font-size="43.5" text-anchor="middle" fill="#fff" stroke="#0aa0dc" stroke-width="0.4" stroke-linejoin="round">1</text><rect x="690.33" y="2115.51" width="113.82" height="101.29" fill="#76cbea"/><text transform="translate(747.24 2180.88) scale(1.0059 1)" font-size="43.5" text-anchor="middle" fill="#000" stroke="#76cbea" stroke-width="0.4" stroke-linejoin="round">0.557</text><rect x="811.55" y="2115.51" width="113.82" height="101.29" fill="#79cceb"/><text transform="translate(868.46 2180.88) scale(1.0059 1)" font-size="43.5" text-anchor="middle" fill="#000" stroke="#79cceb" stroke-width="0.4" stroke-linejoin="round">0.545</text><rect x="932.77" y="2115.51" width="113.82" height="101.29" fill="#8fd5ed"/><text transform="translate(989.69 2180.88) scale(1.0059 1)" font-size="43.5" text-anchor="middle" fill="#000" stroke="#8fd5ed" stroke-width="0.4" stroke-linejoin="round">0.45</text><path d="M80.5 2220.5H1050.3V1351" fill="none" stroke="#3a3a3a" stroke-width="2.9"/><path d="M141.11 2220.5v10.5 M1050.3 1405.34h10.5 M262.34 2220.5v10.5 M1050.3 1514.03h10.5 M383.56 2220.5v10.5 M1050.3 1622.72h10.5 M504.79 2220.5v10.5 M1050.3 1731.41h10.5 M626.01 2220.5v10.5 M1050.3 1840.09h10.5 M747.24 2220.5v10.5 M1050.3 1948.78h10.5 M868.46 2220.5v10.5 M1050.3 2057.47h10.5 M989.69 2220.5v10.5 M1050.3 2166.16h10.5" stroke="#3a3a3a" stroke-width="2.9"/><text transform="translate(1063.8 1418.58) scale(0.99632 1)" font-size="39.5" text-anchor="start" fill="#000" stroke="#fff" stroke-width="0.4" stroke-linejoin="round">X8</text><text transform="translate(1063.8 1527.26) scale(0.99632 1)" font-size="39.5" text-anchor="start" fill="#000" stroke="#fff" stroke-width="0.4" stroke-linejoin="round">X7</text><text transform="translate(1063.8 1635.95) scale(0.99632 1)" font-size="39.5" text-anchor="start" fill="#000" stroke="#fff" stroke-width="0.4" stroke-linejoin="round">X6</text><text transform="translate(1063.8 1744.64) scale(0.99632 1)" font-size="39.5" text-anchor="start" fill="#000" stroke="#fff" stroke-width="0.4" stroke-linejoin="round">X5</text><text transform="translate(1063.8 1853.33) scale(0.99632 1)" font-size="39.5" text-anchor="start" fill="#000" stroke="#fff" stroke-width="0.4" stroke-linejoin="round">X4</text><text transform="translate(1063.8 1962.01) scale(0.99632 1)" font-size="39.5" text-anchor="start" fill="#000" stroke="#fff" stroke-width="0.4" stroke-linejoin="round">X3</text><text transform="translate(1063.8 2070.7) scale(0.99632 1)" font-size="39.5" text-anchor="start" fill="#000" stroke="#fff" stroke-width="0.4" stroke-linejoin="round">X2</text><text transform="translate(1063.8 2179.39) scale(0.99632 1)" font-size="39.5" text-anchor="start" fill="#000" stroke="#fff" stroke-width="0.4" stroke-linejoin="round">X1</text><text transform="translate(141.11 2266.56) scale(0.97716 1)" font-size="37.8" text-anchor="middle" fill="#000" stroke="#fff" stroke-width="0.4" stroke-linejoin="round">X1</text><text transform="translate(262.34 2266.56) scale(0.97716 1)" font-size="37.8" text-anchor="middle" fill="#000" stroke="#fff" stroke-width="0.4" stroke-linejoin="round">X2</text><text transform="translate(383.56 2266.56) scale(0.97716 1)" font-size="37.8" text-anchor="middle" fill="#000" stroke="#fff" stroke-width="0.4" stroke-linejoin="round">X3</text><text transform="translate(504.79 2266.56) scale(0.97716 1)" font-size="37.8" text-anchor="middle" fill="#000" stroke="#fff" stroke-width="0.4" stroke-linejoin="round">X4</text><text transform="translate(626.01 2266.56) scale(0.97716 1)" font-size="37.8" text-anchor="middle" fill="#000" stroke="#fff" stroke-width="0.4" stroke-linejoin="round">X5</text><text transform="translate(747.24 2266.56) scale(0.97716 1)" font-size="37.8" text-anchor="middle" fill="#000" stroke="#fff" stroke-width="0.4" stroke-linejoin="round">X6</text><text transform="translate(868.46 2266.56) scale(0.97716 1)" font-size="37.8" text-anchor="middle" fill="#000" stroke="#fff" stroke-width="0.4" stroke-linejoin="round">X7</text><text transform="translate(989.69 2266.56) scale(0.97716 1)" font-size="37.8" text-anchor="middle" fill="#000" stroke="#fff" stroke-width="0.4" stroke-linejoin="round">X8</text><text transform="translate(1039.7 1348) scale(1.0059 1)" font-size="39.5" text-anchor="end" fill="#000" stroke="#fff" stroke-width="0.4" stroke-linejoin="round">2010</text><rect x="81.6" y="2278.3" width="27.65" height="62.1" fill="#f2f7f6"/><rect x="108.65" y="2278.3" width="27.65" height="62.1" fill="#ecf5f5"/><rect x="135.69" y="2278.3" width="27.65" height="62.1" fill="#e7f3f4"/><rect x="162.74" y="2278.3" width="27.65" height="62.1" fill="#e1f1f4"/><rect x="189.79" y="2278.3" width="27.65" height="62.1" fill="#dbeff3"/><rect x="216.84" y="2278.3" width="27.65" height="62.1" fill="#d5edf2"/><rect x="243.88" y="2278.3" width="27.65" height="62.1" fill="#ceebf1"/><rect x="270.93" y="2278.3" width="27.65" height="62.1" fill="#c7e8f1"/><rect x="297.98" y="2278.3" width="27.65" height="62.1" fill="#bfe5f0"/><rect x="325.02" y="2278.3" width="27.65" height="62.1" fill="#b7e3ef"/><rect x="352.07" y="2278.3" width="27.65" height="62.1" fill="#b0e0ef"/><rect x="379.12" y="2278.3" width="27.65" height="62.1" fill="#a8ddee"/><rect x="406.17" y="2278.3" width="27.65" height="62.1" fill="#a2dbee"/><rect x="433.21" y="2278.3" width="27.65" height="62.1" fill="#9cd9ed"/><rect x="460.26" y="2278.3" width="27.65" height="62.1" fill="#95d7ed"/><rect x="487.31" y="2278.3" width="27.65" height="62.1" fill="#8fd5ed"/><rect x="514.36" y="2278.3" width="27.65" height="62.1" fill="#89d2ec"/><rect x="541.4" y="2278.3" width="27.65" height="62.1" fill="#83d0ec"/><rect x="568.45" y="2278.3" width="27.65" height="62.1" fill="#7cceeb"/><rect x="595.5" y="2278.3" width="27.65" height="62.1" fill="#76cbea"/><rect x="622.54" y="2278.3" width="27.65" height="62.1" fill="#6fc9ea"/><rect x="649.59" y="2278.3" width="27.65" height="62.1" fill="#69c6e9"/><rect x="676.64" y="2278.3" width="27.65" height="62.1" fill="#62c3e8"/><rect x="703.69" y="2278.3" width="27.65" height="62.1" fill="#5bc1e7"/><rect x="730.73" y="2278.3" width="27.65" height="62.1" fill="#54bee6"/><rect x="757.78" y="2278.3" width="27.65" height="62.1" fill="#4cbbe5"/><rect x="784.83" y="2278.3" width="27.65" height="62.1" fill="#44b8e4"/><rect x="811.88" y="2278.3" width="27.65" height="62.1" fill="#3db5e3"/><rect x="838.92" y="2278.3" width="27.65" height="62.1" fill="#35b2e2"/><rect x="865.97" y="2278.3" width="27.65" height="62.1" fill="#2dafe1"/><rect x="893.02" y="2278.3" width="27.65" height="62.1" fill="#28ade0"/><rect x="920.06" y="2278.3" width="27.65" height="62.1" fill="#22aadf"/><rect x="947.11" y="2278.3" width="27.65" height="62.1" fill="#1da8df"/><rect x="974.16" y="2278.3" width="27.65" height="62.1" fill="#18a6de"/><rect x="1001.21" y="2278.3" width="27.65" height="62.1" fill="#12a3dd"/><rect x="1028.25" y="2278.3" width="27.65" height="62.1" fill="#0da1dc"/><rect x="81.6" y="2278.3" width="973.7" height="62.1" fill="none" stroke="#222" stroke-width="2.4"/><text transform="translate(81.6 2398.39) scale(1.028892 1)" font-size="38" text-anchor="middle" fill="#000" stroke="#fff" stroke-width="0.4" stroke-linejoin="round">0.035</text><text transform="translate(243.88 2398.39) scale(1.028892 1)" font-size="38" text-anchor="middle" fill="#000" stroke="#fff" stroke-width="0.4" stroke-linejoin="round">0.196</text><text transform="translate(406.17 2398.39) scale(1.028892 1)" font-size="38" text-anchor="middle" fill="#000" stroke="#fff" stroke-width="0.4" stroke-linejoin="round">0.357</text><text transform="translate(568.45 2398.39) scale(1.028892 1)" font-size="38" text-anchor="middle" fill="#000" stroke="#fff" stroke-width="0.4" stroke-linejoin="round">0.518</text><text transform="translate(730.73 2398.39) scale(1.028892 1)" font-size="38" text-anchor="middle" fill="#000" stroke="#fff" stroke-width="0.4" stroke-linejoin="round">0.678</text><text transform="translate(893.02 2398.39) scale(1.028892 1)" font-size="38" text-anchor="middle" fill="#000" stroke="#fff" stroke-width="0.4" stroke-linejoin="round">0.839</text><text transform="translate(1055.3 2398.39) scale(1.028892 1)" font-size="38" text-anchor="middle" fill="#000" stroke="#fff" stroke-width="0.4" stroke-linejoin="round">1</text><path d="M81.6 2340.4v17 M243.88 2340.4v17 M406.17 2340.4v17 M568.45 2340.4v17 M730.73 2340.4v17 M893.02 2340.4v17 M1055.3 2340.4v17" stroke="#222" stroke-width="2.4"/><text transform="translate(589 2537.8) scale(0.955 1)" font-size="88" text-anchor="middle" stroke="#fff" stroke-width="1.4" stroke-linejoin="round">(<tspan font-weight="bold">c</tspan>)</text></g>
<g><rect x="2224.2" y="1342.7" width="119.6" height="103.62" fill="#ddeccd"/><text transform="translate(2284 1409.24) scale(1.05 1)" font-size="43.5" text-anchor="middle" fill="#000" stroke="#ddeccd" stroke-width="0.4" stroke-linejoin="round">0.301</text><rect x="2097.2" y="1453.73" width="119.6" height="103.62" fill="#edf6e3"/><text transform="translate(2157 1520.26) scale(1.05 1)" font-size="43.5" text-anchor="middle" fill="#000" stroke="#edf6e3" stroke-width="0.4" stroke-linejoin="round">0.15</text><rect x="2224.2" y="1453.73" width="119.6" height="103.62" fill="#c9e3b3"/><text transform="translate(2284 1520.26) scale(1.05 1)" font-size="43.5" text-anchor="middle" fill="#000" stroke="#c9e3b3" stroke-width="0.4" stroke-linejoin="round">0.498</text><rect x="1970.2" y="1564.75" width="119.6" height="103.62" fill="#c8e3b1"/><text transform="translate(2030 1631.29) scale(1.05 1)" font-size="43.5" text-anchor="middle" fill="#000" stroke="#c8e3b1" stroke-width="0.4" stroke-linejoin="round">0.512</text><rect x="2097.2" y="1564.75" width="119.6" height="103.62" fill="#b1d48e"/><text transform="translate(2157 1631.29) scale(1.05 1)" font-size="43.5" text-anchor="middle" fill="#000" stroke="#b1d48e" stroke-width="0.4" stroke-linejoin="round">0.718</text><rect x="2224.2" y="1564.75" width="119.6" height="103.62" fill="#bcdb9e"/><text transform="translate(2284 1631.29) scale(1.05 1)" font-size="43.5" text-anchor="middle" fill="#000" stroke="#bcdb9e" stroke-width="0.4" stroke-linejoin="round">0.617</text><rect x="1843.2" y="1675.77" width="119.6" height="103.62" fill="#94c369"/><text transform="translate(1903 1742.31) scale(1.05 1)" font-size="43.5" text-anchor="middle" fill="#000" stroke="#94c369" stroke-width="0.4" stroke-linejoin="round">0.997</text><rect x="1970.2" y="1675.77" width="119.6" height="103.62" fill="#94c369"/><text transform="translate(2030 1742.31) scale(1.05 1)" font-size="43.5" text-anchor="middle" fill="#000" stroke="#94c369" stroke-width="0.4" stroke-linejoin="round">0.999</text><rect x="2097.2" y="1675.77" width="119.6" height="103.62" fill="#94c369"/><text transform="translate(2157 1742.31) scale(1.05 1)" font-size="43.5" text-anchor="middle" fill="#000" stroke="#94c369" stroke-width="0.4" stroke-linejoin="round">1</text><rect x="2224.2" y="1675.77" width="119.6" height="103.62" fill="#94c369"/><text transform="translate(2284 1742.31) scale(1.05 1)" font-size="43.5" text-anchor="middle" fill="#000" stroke="#94c369" stroke-width="0.4" stroke-linejoin="round">0.998</text><rect x="1716.2" y="1786.8" width="119.6" height="103.62" fill="#b8d998"/><text transform="translate(1776 1853.34) scale(1.05 1)" font-size="43.5" text-anchor="middle" fill="#000" stroke="#b8d998" stroke-width="0.4" stroke-linejoin="round">0.651</text><rect x="1843.2" y="1786.8" width="119.6" height="103.62" fill="#94c369"/><text transform="translate(1903 1853.34) scale(1.05 1)" font-size="43.5" text-anchor="middle" fill="#000" stroke="#94c369" stroke-width="0.4" stroke-linejoin="round">1</text><rect x="1970.2" y="1786.8" width="119.6" height="103.62" fill="#afd38b"/><text transform="translate(2030 1853.34) scale(1.05 1)" font-size="43.5" text-anchor="middle" fill="#000" stroke="#afd38b" stroke-width="0.4" stroke-linejoin="round">0.732</text><rect x="2097.2" y="1786.8" width="119.6" height="103.62" fill="#a3cc7a"/><text transform="translate(2157 1853.34) scale(1.05 1)" font-size="43.5" text-anchor="middle" fill="#000" stroke="#a3cc7a" stroke-width="0.4" stroke-linejoin="round">0.849</text><rect x="2224.2" y="1786.8" width="119.6" height="103.62" fill="#acd187"/><text transform="translate(2284 1853.34) scale(1.05 1)" font-size="43.5" text-anchor="middle" fill="#000" stroke="#acd187" stroke-width="0.4" stroke-linejoin="round">0.76</text><rect x="1589.2" y="1897.83" width="119.6" height="103.62" fill="#abd185"/><text transform="translate(1649 1964.36) scale(1.05 1)" font-size="43.5" text-anchor="middle" fill="#000" stroke="#abd185" stroke-width="0.4" stroke-linejoin="round">0.773</text><rect x="1716.2" y="1897.83" width="119.6" height="103.62" fill="#96c46b"/><text transform="translate(1776 1964.36) scale(1.05 1)" font-size="43.5" text-anchor="middle" fill="#000" stroke="#96c46b" stroke-width="0.4" stroke-linejoin="round">0.981</text><rect x="1843.2" y="1897.83" width="119.6" height="103.62" fill="#94c369"/><text transform="translate(1903 1964.36) scale(1.05 1)" font-size="43.5" text-anchor="middle" fill="#000" stroke="#94c369" stroke-width="0.4" stroke-linejoin="round">1</text><rect x="1970.2" y="1897.83" width="119.6" height="103.62" fill="#9fca76"/><text transform="translate(2030 1964.36) scale(1.05 1)" font-size="43.5" text-anchor="middle" fill="#000" stroke="#9fca76" stroke-width="0.4" stroke-linejoin="round">0.883</text><rect x="2097.2" y="1897.83" width="119.6" height="103.62" fill="#95c46a"/><text transform="translate(2157 1964.36) scale(1.05 1)" font-size="43.5" text-anchor="middle" fill="#000" stroke="#95c46a" stroke-width="0.4" stroke-linejoin="round">0.99</text><rect x="2224.2" y="1897.83" width="119.6" height="103.62" fill="#9bc771"/><text transform="translate(2284 1964.36) scale(1.05 1)" font-size="43.5" text-anchor="middle" fill="#000" stroke="#9bc771" stroke-width="0.4" stroke-linejoin="round">0.929</text><rect x="1462.2" y="2008.85" width="119.6" height="103.62" fill="#c8e3b1"/><text transform="translate(1522 2075.39) scale(1.05 1)" font-size="43.5" text-anchor="middle" fill="#000" stroke="#c8e3b1" stroke-width="0.4" stroke-linejoin="round">0.512</text><rect x="1589.2" y="2008.85" width="119.6" height="103.62" fill="#94c369"/><text transform="translate(1649 2075.39) scale(1.05 1)" font-size="43.5" text-anchor="middle" fill="#000" stroke="#94c369" stroke-width="0.4" stroke-linejoin="round">1</text><rect x="1716.2" y="2008.85" width="119.6" height="103.62" fill="#96c46b"/><text transform="translate(1776 2075.39) scale(1.05 1)" font-size="43.5" text-anchor="middle" fill="#000" stroke="#96c46b" stroke-width="0.4" stroke-linejoin="round">0.981</text><rect x="1843.2" y="2008.85" width="119.6" height="103.62" fill="#94c369"/><text transform="translate(1903 2075.39) scale(1.05 1)" font-size="43.5" text-anchor="middle" fill="#000" stroke="#94c369" stroke-width="0.4" stroke-linejoin="round">1</text><rect x="1970.2" y="2008.85" width="119.6" height="103.62" fill="#9fc976"/><text transform="translate(2030 2075.39) scale(1.05 1)" font-size="43.5" text-anchor="middle" fill="#000" stroke="#9fc976" stroke-width="0.4" stroke-linejoin="round">0.89</text><rect x="2097.2" y="2008.85" width="119.6" height="103.62" fill="#97c56c"/><text transform="translate(2157 2075.39) scale(1.05 1)" font-size="43.5" text-anchor="middle" fill="#000" stroke="#97c56c" stroke-width="0.4" stroke-linejoin="round">0.972</text><rect x="2224.2" y="2008.85" width="119.6" height="103.62" fill="#9fca76"/><text transform="translate(2284 2075.39) scale(1.05 1)" font-size="43.5" text-anchor="middle" fill="#000" stroke="#9fca76" stroke-width="0.4" stroke-linejoin="round">0.883</text><rect x="1335.2" y="2119.87" width="119.6" height="103.62" fill="#ecf6e2"/><text transform="translate(1395 2186.41) scale(1.05 1)" font-size="43.5" text-anchor="middle" fill="#000" stroke="#ecf6e2" stroke-width="0.4" stroke-linejoin="round">0.159</text><rect x="1462.2" y="2119.87" width="119.6" height="103.62" fill="#96c46b"/><text transform="translate(1522 2186.41) scale(1.05 1)" font-size="43.5" text-anchor="middle" fill="#000" stroke="#96c46b" stroke-width="0.4" stroke-linejoin="round">0.982</text><rect x="1589.2" y="2119.87" width="119.6" height="103.62" fill="#94c369"/><text transform="translate(1649 2186.41) scale(1.05 1)" font-size="43.5" text-anchor="middle" fill="#000" stroke="#94c369" stroke-width="0.4" stroke-linejoin="round">0.997</text><rect x="1716.2" y="2119.87" width="119.6" height="103.62" fill="#a1ca78"/><text transform="translate(1776 2186.41) scale(1.05 1)" font-size="43.5" text-anchor="middle" fill="#000" stroke="#a1ca78" stroke-width="0.4" stroke-linejoin="round">0.87</text><rect x="1843.2" y="2119.87" width="119.6" height="103.62" fill="#94c369"/><text transform="translate(1903 2186.41) scale(1.05 1)" font-size="43.5" text-anchor="middle" fill="#000" stroke="#94c369" stroke-width="0.4" stroke-linejoin="round">1</text><rect x="1970.2" y="2119.87" width="119.6" height="103.62" fill="#b0d48d"/><text transform="translate(2030 2186.41) scale(1.05 1)" font-size="43.5" text-anchor="middle" fill="#000" stroke="#b0d48d" stroke-width="0.4" stroke-linejoin="round">0.724</text><rect x="2097.2" y="2119.87" width="119.6" height="103.62" fill="#bedca1"/><text transform="translate(2157 2186.41) scale(1.05 1)" font-size="43.5" text-anchor="middle" fill="#000" stroke="#bedca1" stroke-width="0.4" stroke-linejoin="round">0.603</text><rect x="2224.2" y="2119.87" width="119.6" height="103.62" fill="#c6e2ae"/><text transform="translate(2284 2186.41) scale(1.05 1)" font-size="43.5" text-anchor="middle" fill="#000" stroke="#c6e2ae" stroke-width="0.4" stroke-linejoin="round">0.528</text><path d="M1331.5 2227.2H2347.5V1339" fill="none" stroke="#2e2e2e" stroke-width="2.9"/><path d="M1395 2227.2v10.5 M2347.5 1394.51h10.5 M1522 2227.2v10.5 M2347.5 1505.54h10.5 M1649 2227.2v10.5 M2347.5 1616.56h10.5 M1776 2227.2v10.5 M2347.5 1727.59h10.5 M1903 2227.2v10.5 M2347.5 1838.61h10.5 M2030 2227.2v10.5 M2347.5 1949.64h10.5 M2157 2227.2v10.5 M2347.5 2060.66h10.5 M2284 2227.2v10.5 M2347.5 2171.69h10.5" stroke="#2e2e2e" stroke-width="2.9"/><text transform="translate(2361 1407.75) scale(1.04 1)" font-size="39.5" text-anchor="start" fill="#000" stroke="#fff" stroke-width="0.4" stroke-linejoin="round">X8</text><text transform="translate(2361 1518.77) scale(1.04 1)" font-size="39.5" text-anchor="start" fill="#000" stroke="#fff" stroke-width="0.4" stroke-linejoin="round">X7</text><text transform="translate(2361 1629.8) scale(1.04 1)" font-size="39.5" text-anchor="start" fill="#000" stroke="#fff" stroke-width="0.4" stroke-linejoin="round">X6</text><text transform="translate(2361 1740.82) scale(1.04 1)" font-size="39.5" text-anchor="start" fill="#000" stroke="#fff" stroke-width="0.4" stroke-linejoin="round">X5</text><text transform="translate(2361 1851.85) scale(1.04 1)" font-size="39.5" text-anchor="start" fill="#000" stroke="#fff" stroke-width="0.4" stroke-linejoin="round">X4</text><text transform="translate(2361 1962.87) scale(1.04 1)" font-size="39.5" text-anchor="start" fill="#000" stroke="#fff" stroke-width="0.4" stroke-linejoin="round">X3</text><text transform="translate(2361 2073.89) scale(1.04 1)" font-size="39.5" text-anchor="start" fill="#000" stroke="#fff" stroke-width="0.4" stroke-linejoin="round">X2</text><text transform="translate(2361 2184.92) scale(1.04 1)" font-size="39.5" text-anchor="start" fill="#000" stroke="#fff" stroke-width="0.4" stroke-linejoin="round">X1</text><text transform="translate(1395 2273.26) scale(1.02 1)" font-size="37.8" text-anchor="middle" fill="#000" stroke="#fff" stroke-width="0.4" stroke-linejoin="round">X1</text><text transform="translate(1522 2273.26) scale(1.02 1)" font-size="37.8" text-anchor="middle" fill="#000" stroke="#fff" stroke-width="0.4" stroke-linejoin="round">X2</text><text transform="translate(1649 2273.26) scale(1.02 1)" font-size="37.8" text-anchor="middle" fill="#000" stroke="#fff" stroke-width="0.4" stroke-linejoin="round">X3</text><text transform="translate(1776 2273.26) scale(1.02 1)" font-size="37.8" text-anchor="middle" fill="#000" stroke="#fff" stroke-width="0.4" stroke-linejoin="round">X4</text><text transform="translate(1903 2273.26) scale(1.02 1)" font-size="37.8" text-anchor="middle" fill="#000" stroke="#fff" stroke-width="0.4" stroke-linejoin="round">X5</text><text transform="translate(2030 2273.26) scale(1.02 1)" font-size="37.8" text-anchor="middle" fill="#000" stroke="#fff" stroke-width="0.4" stroke-linejoin="round">X6</text><text transform="translate(2157 2273.26) scale(1.02 1)" font-size="37.8" text-anchor="middle" fill="#000" stroke="#fff" stroke-width="0.4" stroke-linejoin="round">X7</text><text transform="translate(2284 2273.26) scale(1.02 1)" font-size="37.8" text-anchor="middle" fill="#000" stroke="#fff" stroke-width="0.4" stroke-linejoin="round">X8</text><text transform="translate(2334.3 1336) scale(1.05 1)" font-size="39.5" text-anchor="end" fill="#000" stroke="#fff" stroke-width="0.4" stroke-linejoin="round">2015</text><rect x="1334.2" y="2286.7" width="28.88" height="63.1" fill="#f7fcf1"/><rect x="1362.48" y="2286.7" width="28.88" height="63.1" fill="#f4fbee"/><rect x="1390.76" y="2286.7" width="28.88" height="63.1" fill="#f1f9ea"/><rect x="1419.04" y="2286.7" width="28.88" height="63.1" fill="#eff8e6"/><rect x="1447.32" y="2286.7" width="28.88" height="63.1" fill="#ecf6e3"/><rect x="1475.6" y="2286.7" width="28.88" height="63.1" fill="#eaf4df"/><rect x="1503.88" y="2286.7" width="28.88" height="63.1" fill="#e7f3db"/><rect x="1532.16" y="2286.7" width="28.88" height="63.1" fill="#e4f1d7"/><rect x="1560.44" y="2286.7" width="28.88" height="63.1" fill="#e1efd3"/><rect x="1588.73" y="2286.7" width="28.88" height="63.1" fill="#deedce"/><rect x="1617.01" y="2286.7" width="28.88" height="63.1" fill="#dbebca"/><rect x="1645.29" y="2286.7" width="28.88" height="63.1" fill="#d8e9c6"/><rect x="1673.57" y="2286.7" width="28.88" height="63.1" fill="#d5e8c3"/><rect x="1701.85" y="2286.7" width="28.88" height="63.1" fill="#d3e7c0"/><rect x="1730.13" y="2286.7" width="28.88" height="63.1" fill="#d0e6bc"/><rect x="1758.41" y="2286.7" width="28.88" height="63.1" fill="#cee5b9"/><rect x="1786.69" y="2286.7" width="28.88" height="63.1" fill="#cbe4b6"/><rect x="1814.97" y="2286.7" width="28.88" height="63.1" fill="#c8e3b2"/><rect x="1843.25" y="2286.7" width="28.88" height="63.1" fill="#c5e1ae"/><rect x="1871.53" y="2286.7" width="28.88" height="63.1" fill="#c3dfa9"/><rect x="1899.81" y="2286.7" width="28.88" height="63.1" fill="#c0dea4"/><rect x="1928.09" y="2286.7" width="28.88" height="63.1" fill="#bddc9f"/><rect x="1956.37" y="2286.7" width="28.88" height="63.1" fill="#bada9a"/><rect x="1984.65" y="2286.7" width="28.88" height="63.1" fill="#b7d896"/><rect x="2012.93" y="2286.7" width="28.88" height="63.1" fill="#b4d692"/><rect x="2041.21" y="2286.7" width="28.88" height="63.1" fill="#b1d48d"/><rect x="2069.49" y="2286.7" width="28.88" height="63.1" fill="#aed289"/><rect x="2097.78" y="2286.7" width="28.88" height="63.1" fill="#abd185"/><rect x="2126.06" y="2286.7" width="28.88" height="63.1" fill="#a8cf81"/><rect x="2154.34" y="2286.7" width="28.88" height="63.1" fill="#a5cd7d"/><rect x="2182.62" y="2286.7" width="28.88" height="63.1" fill="#a2cb7a"/><rect x="2210.9" y="2286.7" width="28.88" height="63.1" fill="#a0ca77"/><rect x="2239.18" y="2286.7" width="28.88" height="63.1" fill="#9dc874"/><rect x="2267.46" y="2286.7" width="28.88" height="63.1" fill="#9bc771"/><rect x="2295.74" y="2286.7" width="28.88" height="63.1" fill="#98c56e"/><rect x="2324.02" y="2286.7" width="28.88" height="63.1" fill="#95c46b"/><rect x="1334.2" y="2286.7" width="1018.1" height="63.1" fill="none" stroke="#222" stroke-width="2.4"/><text transform="translate(1334.2 2407.79) scale(1.074 1)" font-size="38" text-anchor="middle" fill="#000" stroke="#fff" stroke-width="0.4" stroke-linejoin="round">0.035</text><text transform="translate(1503.88 2407.79) scale(1.074 1)" font-size="38" text-anchor="middle" fill="#000" stroke="#fff" stroke-width="0.4" stroke-linejoin="round">0.196</text><text transform="translate(1673.57 2407.79) scale(1.074 1)" font-size="38" text-anchor="middle" fill="#000" stroke="#fff" stroke-width="0.4" stroke-linejoin="round">0.357</text><text transform="translate(1843.25 2407.79) scale(1.074 1)" font-size="38" text-anchor="middle" fill="#000" stroke="#fff" stroke-width="0.4" stroke-linejoin="round">0.518</text><text transform="translate(2012.93 2407.79) scale(1.074 1)" font-size="38" text-anchor="middle" fill="#000" stroke="#fff" stroke-width="0.4" stroke-linejoin="round">0.678</text><text transform="translate(2182.62 2407.79) scale(1.074 1)" font-size="38" text-anchor="middle" fill="#000" stroke="#fff" stroke-width="0.4" stroke-linejoin="round">0.839</text><text transform="translate(2352.3 2407.79) scale(1.074 1)" font-size="38" text-anchor="middle" fill="#000" stroke="#fff" stroke-width="0.4" stroke-linejoin="round">1</text><path d="M1334.2 2349.8v17 M1503.88 2349.8v17 M1673.57 2349.8v17 M1843.25 2349.8v17 M2012.93 2349.8v17 M2182.62 2349.8v17 M2352.3 2349.8v17" stroke="#222" stroke-width="2.4"/><text transform="translate(1848.4 2537.8) scale(0.955 1)" font-size="88" text-anchor="middle" stroke="#fff" stroke-width="1.4" stroke-linejoin="round">(<tspan font-weight="bold">d</tspan>)</text></g>
<g><rect x="950.33" y="2639.2" width="117.47" height="100.3" fill="#cdc7e3"/><text transform="translate(1009.06 2704.07) scale(1.05 1)" font-size="43.5" text-anchor="middle" fill="#000" stroke="#cdc7e3" stroke-width="0.4" stroke-linejoin="round">0.368</text><rect x="825.45" y="2746.9" width="117.47" height="100.3" fill="#e9e5ee"/><text transform="translate(884.19 2811.77) scale(1.05 1)" font-size="43.5" text-anchor="middle" fill="#000" stroke="#e9e5ee" stroke-width="0.4" stroke-linejoin="round">0.155</text><rect x="950.33" y="2746.9" width="117.47" height="100.3" fill="#b9b4da"/><text transform="translate(1009.06 2811.77) scale(1.05 1)" font-size="43.5" text-anchor="middle" fill="#000" stroke="#b9b4da" stroke-width="0.4" stroke-linejoin="round">0.507</text><rect x="700.58" y="2854.6" width="117.47" height="100.3" fill="#bbb6db"/><text transform="translate(759.31 2919.47) scale(1.05 1)" font-size="43.5" text-anchor="middle" fill="#000" stroke="#bbb6db" stroke-width="0.4" stroke-linejoin="round">0.493</text><rect x="825.45" y="2854.6" width="117.47" height="100.3" fill="#897db5"/><text transform="translate(884.19 2919.47) scale(1.05 1)" font-size="43.5" text-anchor="middle" fill="#000" stroke="#897db5" stroke-width="0.4" stroke-linejoin="round">0.72</text><rect x="950.33" y="2854.6" width="117.47" height="100.3" fill="#a197c8"/><text transform="translate(1009.06 2919.47) scale(1.05 1)" font-size="43.5" text-anchor="middle" fill="#000" stroke="#a197c8" stroke-width="0.4" stroke-linejoin="round">0.615</text><rect x="575.7" y="2962.3" width="117.47" height="100.3" fill="#4b3c82"/><text transform="translate(634.44 3027.17) scale(1.05 1)" font-size="43.5" text-anchor="middle" fill="#fff" stroke="#4b3c82" stroke-width="0.4" stroke-linejoin="round">0.998</text><rect x="700.58" y="2962.3" width="117.47" height="100.3" fill="#4b3c82"/><text transform="translate(759.31 3027.17) scale(1.05 1)" font-size="43.5" text-anchor="middle" fill="#fff" stroke="#4b3c82" stroke-width="0.4" stroke-linejoin="round">1</text><rect x="825.45" y="2962.3" width="117.47" height="100.3" fill="#4b3c82"/><text transform="translate(884.19 3027.17) scale(1.05 1)" font-size="43.5" text-anchor="middle" fill="#fff" stroke="#4b3c82" stroke-width="0.4" stroke-linejoin="round">1</text><rect x="950.33" y="2962.3" width="117.47" height="100.3" fill="#4b3c82"/><text transform="translate(1009.06 3027.17) scale(1.05 1)" font-size="43.5" text-anchor="middle" fill="#fff" stroke="#4b3c82" stroke-width="0.4" stroke-linejoin="round">1</text><rect x="450.82" y="3070" width="117.47" height="100.3" fill="#665a98"/><text transform="translate(509.56 3134.87) scale(1.05 1)" font-size="43.5" text-anchor="middle" fill="#fff" stroke="#665a98" stroke-width="0.4" stroke-linejoin="round">0.875</text><rect x="575.7" y="3070" width="117.47" height="100.3" fill="#4b3c82"/><text transform="translate(634.44 3134.87) scale(1.05 1)" font-size="43.5" text-anchor="middle" fill="#fff" stroke="#4b3c82" stroke-width="0.4" stroke-linejoin="round">1</text><rect x="700.58" y="3070" width="117.47" height="100.3" fill="#625594"/><text transform="translate(759.31 3134.87) scale(1.05 1)" font-size="43.5" text-anchor="middle" fill="#fff" stroke="#625594" stroke-width="0.4" stroke-linejoin="round">0.897</text><rect x="825.45" y="3070" width="117.47" height="100.3" fill="#5a4d8e"/><text transform="translate(884.19 3134.87) scale(1.05 1)" font-size="43.5" text-anchor="middle" fill="#fff" stroke="#5a4d8e" stroke-width="0.4" stroke-linejoin="round">0.931</text><rect x="950.33" y="3070" width="117.47" height="100.3" fill="#5f5292"/><text transform="translate(1009.06 3134.87) scale(1.05 1)" font-size="43.5" text-anchor="middle" fill="#fff" stroke="#5f5292" stroke-width="0.4" stroke-linejoin="round">0.908</text><rect x="325.95" y="3177.7" width="117.47" height="100.3" fill="#7368a1"/><text transform="translate(384.69 3242.57) scale(1.05 1)" font-size="43.5" text-anchor="middle" fill="#fff" stroke="#7368a1" stroke-width="0.4" stroke-linejoin="round">0.819</text><rect x="450.82" y="3177.7" width="117.47" height="100.3" fill="#4c3d83"/><text transform="translate(509.56 3242.57) scale(1.05 1)" font-size="43.5" text-anchor="middle" fill="#fff" stroke="#4c3d83" stroke-width="0.4" stroke-linejoin="round">0.994</text><rect x="575.7" y="3177.7" width="117.47" height="100.3" fill="#4b3c82"/><text transform="translate(634.44 3242.57) scale(1.05 1)" font-size="43.5" text-anchor="middle" fill="#fff" stroke="#4b3c82" stroke-width="0.4" stroke-linejoin="round">1</text><rect x="700.58" y="3177.7" width="117.47" height="100.3" fill="#544689"/><text transform="translate(759.31 3242.57) scale(1.05 1)" font-size="43.5" text-anchor="middle" fill="#fff" stroke="#544689" stroke-width="0.4" stroke-linejoin="round">0.958</text><rect x="825.45" y="3177.7" width="117.47" height="100.3" fill="#4c3d83"/><text transform="translate(884.19 3242.57) scale(1.05 1)" font-size="43.5" text-anchor="middle" fill="#fff" stroke="#4c3d83" stroke-width="0.4" stroke-linejoin="round">0.995</text><rect x="950.33" y="3177.7" width="117.47" height="100.3" fill="#57498b"/><text transform="translate(1009.06 3242.57) scale(1.05 1)" font-size="43.5" text-anchor="middle" fill="#fff" stroke="#57498b" stroke-width="0.4" stroke-linejoin="round">0.947</text><rect x="201.07" y="3285.4" width="117.47" height="100.3" fill="#d1cbe5"/><text transform="translate(259.81 3350.27) scale(1.05 1)" font-size="43.5" text-anchor="middle" fill="#000" stroke="#d1cbe5" stroke-width="0.4" stroke-linejoin="round">0.334</text><rect x="325.95" y="3285.4" width="117.47" height="100.3" fill="#4b3c82"/><text transform="translate(384.69 3350.27) scale(1.05 1)" font-size="43.5" text-anchor="middle" fill="#fff" stroke="#4b3c82" stroke-width="0.4" stroke-linejoin="round">1</text><rect x="450.82" y="3285.4" width="117.47" height="100.3" fill="#4f4185"/><text transform="translate(509.56 3350.27) scale(1.05 1)" font-size="43.5" text-anchor="middle" fill="#fff" stroke="#4f4185" stroke-width="0.4" stroke-linejoin="round">0.981</text><rect x="575.7" y="3285.4" width="117.47" height="100.3" fill="#4b3c82"/><text transform="translate(634.44 3350.27) scale(1.05 1)" font-size="43.5" text-anchor="middle" fill="#fff" stroke="#4b3c82" stroke-width="0.4" stroke-linejoin="round">1</text><rect x="700.58" y="3285.4" width="117.47" height="100.3" fill="#645795"/><text transform="translate(759.31 3350.27) scale(1.05 1)" font-size="43.5" text-anchor="middle" fill="#fff" stroke="#645795" stroke-width="0.4" stroke-linejoin="round">0.888</text><rect x="825.45" y="3285.4" width="117.47" height="100.3" fill="#55478a"/><text transform="translate(884.19 3350.27) scale(1.05 1)" font-size="43.5" text-anchor="middle" fill="#fff" stroke="#55478a" stroke-width="0.4" stroke-linejoin="round">0.956</text><rect x="950.33" y="3285.4" width="117.47" height="100.3" fill="#756aa3"/><text transform="translate(1009.06 3350.27) scale(1.05 1)" font-size="43.5" text-anchor="middle" fill="#fff" stroke="#756aa3" stroke-width="0.4" stroke-linejoin="round">0.809</text><rect x="76.2" y="3393.1" width="117.47" height="100.3" fill="#e6e1ec"/><text transform="translate(134.94 3457.97) scale(1.05 1)" font-size="43.5" text-anchor="middle" fill="#000" stroke="#e6e1ec" stroke-width="0.4" stroke-linejoin="round">0.18</text><rect x="201.07" y="3393.1" width="117.47" height="100.3" fill="#504286"/><text transform="translate(259.81 3457.97) scale(1.05 1)" font-size="43.5" text-anchor="middle" fill="#fff" stroke="#504286" stroke-width="0.4" stroke-linejoin="round">0.975</text><rect x="325.95" y="3393.1" width="117.47" height="100.3" fill="#4c3d83"/><text transform="translate(384.69 3457.97) scale(1.05 1)" font-size="43.5" text-anchor="middle" fill="#fff" stroke="#4c3d83" stroke-width="0.4" stroke-linejoin="round">0.997</text><rect x="450.82" y="3393.1" width="117.47" height="100.3" fill="#594b8d"/><text transform="translate(509.56 3457.97) scale(1.05 1)" font-size="43.5" text-anchor="middle" fill="#fff" stroke="#594b8d" stroke-width="0.4" stroke-linejoin="round">0.938</text><rect x="575.7" y="3393.1" width="117.47" height="100.3" fill="#4b3c82"/><text transform="translate(634.44 3457.97) scale(1.05 1)" font-size="43.5" text-anchor="middle" fill="#fff" stroke="#4b3c82" stroke-width="0.4" stroke-linejoin="round">1</text><rect x="700.58" y="3393.1" width="117.47" height="100.3" fill="#8277af"/><text transform="translate(759.31 3457.97) scale(1.05 1)" font-size="43.5" text-anchor="middle" fill="#000" stroke="#8277af" stroke-width="0.4" stroke-linejoin="round">0.75</text><rect x="825.45" y="3393.1" width="117.47" height="100.3" fill="#a399c9"/><text transform="translate(884.19 3457.97) scale(1.05 1)" font-size="43.5" text-anchor="middle" fill="#000" stroke="#a399c9" stroke-width="0.4" stroke-linejoin="round">0.606</text><rect x="950.33" y="3393.1" width="117.47" height="100.3" fill="#b0a9d3"/><text transform="translate(1009.06 3457.97) scale(1.05 1)" font-size="43.5" text-anchor="middle" fill="#000" stroke="#b0a9d3" stroke-width="0.4" stroke-linejoin="round">0.548</text><path d="M72.5 3497.1H1071.5V2635.5" fill="none" stroke="#222222" stroke-width="2.9"/><path d="M134.94 3497.1v10.5 M1071.5 2689.35h10.5 M259.81 3497.1v10.5 M1071.5 2797.05h10.5 M384.69 3497.1v10.5 M1071.5 2904.75h10.5 M509.56 3497.1v10.5 M1071.5 3012.45h10.5 M634.44 3497.1v10.5 M1071.5 3120.15h10.5 M759.31 3497.1v10.5 M1071.5 3227.85h10.5 M884.19 3497.1v10.5 M1071.5 3335.55h10.5 M1009.06 3497.1v10.5 M1071.5 3443.25h10.5" stroke="#222222" stroke-width="2.9"/><text transform="translate(1085 2702.58) scale(1.04 1)" font-size="39.5" text-anchor="start" fill="#000" stroke="#fff" stroke-width="0.4" stroke-linejoin="round">X8</text><text transform="translate(1085 2810.28) scale(1.04 1)" font-size="39.5" text-anchor="start" fill="#000" stroke="#fff" stroke-width="0.4" stroke-linejoin="round">X7</text><text transform="translate(1085 2917.98) scale(1.04 1)" font-size="39.5" text-anchor="start" fill="#000" stroke="#fff" stroke-width="0.4" stroke-linejoin="round">X6</text><text transform="translate(1085 3025.68) scale(1.04 1)" font-size="39.5" text-anchor="start" fill="#000" stroke="#fff" stroke-width="0.4" stroke-linejoin="round">X5</text><text transform="translate(1085 3133.38) scale(1.04 1)" font-size="39.5" text-anchor="start" fill="#000" stroke="#fff" stroke-width="0.4" stroke-linejoin="round">X4</text><text transform="translate(1085 3241.08) scale(1.04 1)" font-size="39.5" text-anchor="start" fill="#000" stroke="#fff" stroke-width="0.4" stroke-linejoin="round">X3</text><text transform="translate(1085 3348.78) scale(1.04 1)" font-size="39.5" text-anchor="start" fill="#000" stroke="#fff" stroke-width="0.4" stroke-linejoin="round">X2</text><text transform="translate(1085 3456.48) scale(1.04 1)" font-size="39.5" text-anchor="start" fill="#000" stroke="#fff" stroke-width="0.4" stroke-linejoin="round">X1</text><text transform="translate(134.94 3543.16) scale(1.02 1)" font-size="37.8" text-anchor="middle" fill="#000" stroke="#fff" stroke-width="0.4" stroke-linejoin="round">X1</text><text transform="translate(259.81 3543.16) scale(1.02 1)" font-size="37.8" text-anchor="middle" fill="#000" stroke="#fff" stroke-width="0.4" stroke-linejoin="round">X2</text><text transform="translate(384.69 3543.16) scale(1.02 1)" font-size="37.8" text-anchor="middle" fill="#000" stroke="#fff" stroke-width="0.4" stroke-linejoin="round">X3</text><text transform="translate(509.56 3543.16) scale(1.02 1)" font-size="37.8" text-anchor="middle" fill="#000" stroke="#fff" stroke-width="0.4" stroke-linejoin="round">X4</text><text transform="translate(634.44 3543.16) scale(1.02 1)" font-size="37.8" text-anchor="middle" fill="#000" stroke="#fff" stroke-width="0.4" stroke-linejoin="round">X5</text><text transform="translate(759.31 3543.16) scale(1.02 1)" font-size="37.8" text-anchor="middle" fill="#000" stroke="#fff" stroke-width="0.4" stroke-linejoin="round">X6</text><text transform="translate(884.19 3543.16) scale(1.02 1)" font-size="37.8" text-anchor="middle" fill="#000" stroke="#fff" stroke-width="0.4" stroke-linejoin="round">X7</text><text transform="translate(1009.06 3543.16) scale(1.02 1)" font-size="37.8" text-anchor="middle" fill="#000" stroke="#fff" stroke-width="0.4" stroke-linejoin="round">X8</text><text transform="translate(1060 2632.5) scale(1.05 1)" font-size="39.5" text-anchor="end" fill="#000" stroke="#fff" stroke-width="0.4" stroke-linejoin="round">2020</text><rect x="75" y="3554.8" width="28.41" height="61.4" fill="#f7f3f3"/><rect x="102.81" y="3554.8" width="28.41" height="61.4" fill="#f4f0f2"/><rect x="130.62" y="3554.8" width="28.41" height="61.4" fill="#f0ecf1"/><rect x="158.42" y="3554.8" width="28.41" height="61.4" fill="#ede8ef"/><rect x="186.23" y="3554.8" width="28.41" height="61.4" fill="#e9e5ee"/><rect x="214.04" y="3554.8" width="28.41" height="61.4" fill="#e6e1ec"/><rect x="241.85" y="3554.8" width="28.41" height="61.4" fill="#e2ddeb"/><rect x="269.66" y="3554.8" width="28.41" height="61.4" fill="#dfd9ea"/><rect x="297.47" y="3554.8" width="28.41" height="61.4" fill="#dbd6e8"/><rect x="325.27" y="3554.8" width="28.41" height="61.4" fill="#d7d2e7"/><rect x="353.08" y="3554.8" width="28.41" height="61.4" fill="#d4cee5"/><rect x="380.89" y="3554.8" width="28.41" height="61.4" fill="#d0cae4"/><rect x="408.7" y="3554.8" width="28.41" height="61.4" fill="#ccc6e2"/><rect x="436.51" y="3554.8" width="28.41" height="61.4" fill="#c9c3e1"/><rect x="464.32" y="3554.8" width="28.41" height="61.4" fill="#c5bfdf"/><rect x="492.12" y="3554.8" width="28.41" height="61.4" fill="#c1bcdd"/><rect x="519.93" y="3554.8" width="28.41" height="61.4" fill="#bdb8dc"/><rect x="547.74" y="3554.8" width="28.41" height="61.4" fill="#bab5da"/><rect x="575.55" y="3554.8" width="28.41" height="61.4" fill="#b4aed6"/><rect x="603.36" y="3554.8" width="28.41" height="61.4" fill="#aea6d2"/><rect x="631.17" y="3554.8" width="28.41" height="61.4" fill="#a89fcd"/><rect x="658.97" y="3554.8" width="28.41" height="61.4" fill="#a298c9"/><rect x="686.78" y="3554.8" width="28.41" height="61.4" fill="#9b91c4"/><rect x="714.59" y="3554.8" width="28.41" height="61.4" fill="#9589bf"/><rect x="742.4" y="3554.8" width="28.41" height="61.4" fill="#8f84ba"/><rect x="770.21" y="3554.8" width="28.41" height="61.4" fill="#897eb5"/><rect x="798.02" y="3554.8" width="28.41" height="61.4" fill="#8378b0"/><rect x="825.82" y="3554.8" width="28.41" height="61.4" fill="#7d72ab"/><rect x="853.63" y="3554.8" width="28.41" height="61.4" fill="#776ca5"/><rect x="881.44" y="3554.8" width="28.41" height="61.4" fill="#7166a0"/><rect x="909.25" y="3554.8" width="28.41" height="61.4" fill="#6b609b"/><rect x="937.06" y="3554.8" width="28.41" height="61.4" fill="#655997"/><rect x="964.87" y="3554.8" width="28.41" height="61.4" fill="#605392"/><rect x="992.67" y="3554.8" width="28.41" height="61.4" fill="#5a4c8e"/><rect x="1020.48" y="3554.8" width="28.41" height="61.4" fill="#544689"/><rect x="1048.29" y="3554.8" width="28.41" height="61.4" fill="#4e3f84"/><rect x="75" y="3554.8" width="1001.1" height="61.4" fill="none" stroke="#222" stroke-width="2.4"/><text transform="translate(75 3674.19) scale(1.074 1)" font-size="38" text-anchor="middle" fill="#000" stroke="#fff" stroke-width="0.4" stroke-linejoin="round">0.035</text><text transform="translate(241.85 3674.19) scale(1.074 1)" font-size="38" text-anchor="middle" fill="#000" stroke="#fff" stroke-width="0.4" stroke-linejoin="round">0.196</text><text transform="translate(408.7 3674.19) scale(1.074 1)" font-size="38" text-anchor="middle" fill="#000" stroke="#fff" stroke-width="0.4" stroke-linejoin="round">0.357</text><text transform="translate(575.55 3674.19) scale(1.074 1)" font-size="38" text-anchor="middle" fill="#000" stroke="#fff" stroke-width="0.4" stroke-linejoin="round">0.518</text><text transform="translate(742.4 3674.19) scale(1.074 1)" font-size="38" text-anchor="middle" fill="#000" stroke="#fff" stroke-width="0.4" stroke-linejoin="round">0.678</text><text transform="translate(909.25 3674.19) scale(1.074 1)" font-size="38" text-anchor="middle" fill="#000" stroke="#fff" stroke-width="0.4" stroke-linejoin="round">0.839</text><text transform="translate(1076.1 3674.19) scale(1.074 1)" font-size="38" text-anchor="middle" fill="#000" stroke="#fff" stroke-width="0.4" stroke-linejoin="round">1</text><path d="M75 3616.2v17 M241.85 3616.2v17 M408.7 3616.2v17 M575.55 3616.2v17 M742.4 3616.2v17 M909.25 3616.2v17 M1076.1 3616.2v17" stroke="#222" stroke-width="2.4"/><text transform="translate(589.7 3794.3) scale(0.955 1)" font-size="88" text-anchor="middle" stroke="#fff" stroke-width="1.4" stroke-linejoin="round">(<tspan font-weight="bold">e</tspan>)</text></g>
</svg></body></html>
